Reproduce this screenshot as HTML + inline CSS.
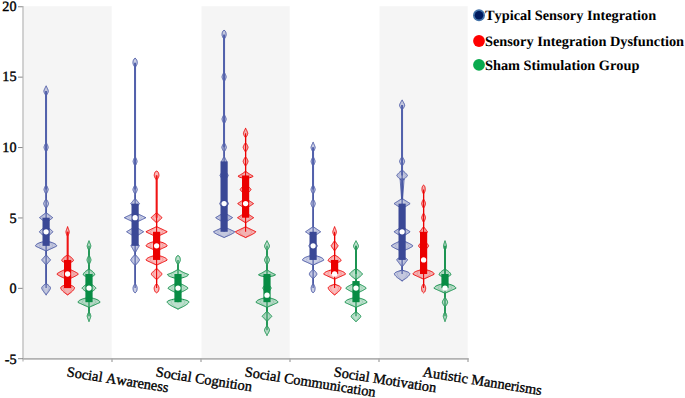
<!DOCTYPE html>
<html><head><meta charset="utf-8"><title>Violin chart</title>
<style>
html,body{margin:0;padding:0;background:#fff;}
svg{display:block;}
text{font-family:"Liberation Serif",serif;fill:#000;font-kerning:none;text-rendering:geometricPrecision;}
</style></head>
<body>
<svg width="685" height="398" viewBox="0 0 685 398">
<rect width="685" height="398" fill="#fff"/>
<rect x="23.5" y="6.2" width="88.2" height="352.4" fill="#f5f5f5"/>
<rect x="201.5" y="6.2" width="88.2" height="352.4" fill="#f5f5f5"/>
<rect x="379.5" y="6.2" width="88.2" height="352.4" fill="#f5f5f5"/>

<line x1="23" y1="6" x2="23" y2="361.5" stroke="#bababa" stroke-width="1.3"/>
<line x1="23" y1="358.9" x2="468.7" y2="358.9" stroke="#b2b2b2" stroke-width="1.6"/>
<line x1="18" y1="358.7" x2="23" y2="358.7" stroke="#7c7c7c" stroke-width="0.9"/>
<line x1="18" y1="6.75" x2="22.6" y2="6.75" stroke="#7c7c7c" stroke-width="0.9"/>
<line x1="18" y1="77.15" x2="22.6" y2="77.15" stroke="#7c7c7c" stroke-width="0.9"/>
<line x1="18" y1="147.55" x2="22.6" y2="147.55" stroke="#7c7c7c" stroke-width="0.9"/>
<line x1="18" y1="217.95" x2="22.6" y2="217.95" stroke="#7c7c7c" stroke-width="0.9"/>
<line x1="18" y1="288.35" x2="22.6" y2="288.35" stroke="#7c7c7c" stroke-width="0.9"/>
<line x1="112" y1="358.6" x2="112" y2="362" stroke="#a8a8a8" stroke-width="1.3"/>
<line x1="201" y1="358.6" x2="201" y2="362" stroke="#a8a8a8" stroke-width="1.3"/>
<line x1="290" y1="358.6" x2="290" y2="362" stroke="#a8a8a8" stroke-width="1.3"/>
<line x1="379" y1="358.6" x2="379" y2="362" stroke="#a8a8a8" stroke-width="1.3"/>
<line x1="468" y1="358.6" x2="468" y2="362" stroke="#a8a8a8" stroke-width="1.3"/>

<path d="M45.98,85.88 45.93,86.28 45.72,86.68 45.50,87.08 45.30,87.48 45.09,87.88 44.90,88.28 44.71,88.68 44.53,89.08 44.36,89.48 44.20,89.88 44.06,90.28 43.93,90.68 43.87,91.08 43.92,91.48 44.00,91.88 44.12,92.28 44.28,92.68 44.45,93.08 44.66,93.48 44.88,93.88 45.14,94.28 45.41,94.68 45.70,95.08 45.98,95.48 45.98,142.68 45.75,143.08 45.52,143.48 45.30,143.88 45.09,144.28 44.89,144.68 44.71,145.08 44.54,145.48 44.39,145.88 44.25,146.28 44.14,146.68 44.06,147.08 44.05,147.48 44.13,147.88 44.24,148.28 44.37,148.68 44.53,149.08 44.69,149.48 44.87,149.88 45.07,150.28 45.28,150.68 45.50,151.08 45.72,151.48 45.96,151.88 45.98,152.28 45.98,184.68 45.89,185.08 45.66,185.48 45.43,185.88 45.21,186.28 45.01,186.68 44.82,187.08 44.64,187.48 44.48,187.88 44.33,188.28 44.21,188.68 44.10,189.08 44.04,189.48 44.08,189.88 44.17,190.28 44.29,190.68 44.43,191.08 44.59,191.48 44.76,191.88 44.95,192.28 45.15,192.68 45.36,193.08 45.59,193.48 45.82,193.88 45.98,194.28 45.98,198.68 45.91,199.08 45.64,199.48 45.37,199.88 45.12,200.28 44.87,200.68 44.65,201.08 44.44,201.48 44.24,201.88 44.07,202.28 43.92,202.68 43.79,203.08 43.71,203.48 43.73,203.88 43.83,204.28 43.96,204.68 44.12,205.08 44.30,205.48 44.50,205.88 44.72,206.28 44.95,206.68 45.19,207.08 45.45,207.48 45.72,207.88 45.98,208.28 45.98,212.28 45.87,212.68 45.35,213.08 44.84,213.48 44.32,213.88 43.81,214.28 43.29,214.68 42.78,215.08 42.26,215.48 41.74,215.88 41.23,216.28 40.71,216.68 40.20,217.08 39.68,217.48 39.63,217.88 40.15,218.28 40.66,218.68 41.18,219.08 41.69,219.48 42.21,219.88 42.72,220.28 43.24,220.68 43.75,221.08 44.27,221.48 44.79,221.88 45.30,222.28 45.82,222.68 45.98,223.08 45.98,225.88 45.95,226.28 45.36,226.68 44.78,227.08 44.22,227.48 43.66,227.88 43.12,228.28 42.60,228.68 42.09,229.08 41.60,229.48 41.13,229.88 40.69,230.28 40.28,230.68 39.90,231.08 39.57,231.48 39.44,231.88 39.73,232.28 40.08,232.68 40.48,233.08 40.91,233.48 41.37,233.88 41.84,234.28 42.34,234.68 42.86,235.08 43.39,235.48 43.94,235.88 44.50,236.28 45.07,236.68 45.65,237.08 45.98,237.48 45.98,240.68 45.57,241.08 43.91,241.48 42.41,241.88 41.07,242.28 39.88,242.68 38.85,243.08 37.97,243.48 37.23,243.88 36.63,244.28 36.17,244.68 35.83,245.08 35.62,245.48 35.52,245.88 35.76,246.28 36.62,246.68 37.49,247.08 38.36,247.48 39.22,247.88 40.09,248.28 40.95,248.68 41.82,249.08 42.68,249.48 43.55,249.88 44.41,250.28 45.28,250.68 45.98,251.08 45.98,254.68 45.81,255.08 45.46,255.48 45.11,255.88 44.77,256.28 44.42,256.68 44.07,257.08 43.73,257.48 43.38,257.88 43.04,258.28 42.69,258.68 42.34,259.08 42.00,259.48 41.65,259.88 41.89,260.28 42.24,260.68 42.59,261.08 42.93,261.48 43.28,261.88 43.63,262.28 43.97,262.68 44.32,263.08 44.66,263.48 45.01,263.88 45.36,264.28 45.70,264.68 45.98,265.08 45.98,283.48 45.50,283.88 44.91,284.28 44.36,284.68 43.85,285.08 43.39,285.48 42.98,285.88 42.61,286.28 42.30,286.68 42.04,287.08 41.85,287.48 41.73,287.88 41.73,288.28 41.87,288.68 42.04,289.08 42.23,289.48 42.45,289.88 42.69,290.28 42.94,290.68 43.20,291.08 43.48,291.48 43.77,291.88 44.07,292.28 44.39,292.68 44.71,293.08 45.04,293.48 45.38,293.88 45.73,294.28 45.98,294.68 45.98,295.08 L46.22,295.08 46.22,294.68 46.47,294.28 46.82,293.88 47.16,293.48 47.49,293.08 47.81,292.68 48.13,292.28 48.43,291.88 48.72,291.48 49.00,291.08 49.26,290.68 49.51,290.28 49.75,289.88 49.97,289.48 50.16,289.08 50.33,288.68 50.47,288.28 50.47,287.88 50.35,287.48 50.16,287.08 49.90,286.68 49.59,286.28 49.22,285.88 48.81,285.48 48.35,285.08 47.84,284.68 47.29,284.28 46.70,283.88 46.22,283.48 46.22,265.08 46.50,264.68 46.84,264.28 47.19,263.88 47.54,263.48 47.88,263.08 48.23,262.68 48.57,262.28 48.92,261.88 49.27,261.48 49.61,261.08 49.96,260.68 50.31,260.28 50.55,259.88 50.20,259.48 49.86,259.08 49.51,258.68 49.16,258.28 48.82,257.88 48.47,257.48 48.13,257.08 47.78,256.68 47.43,256.28 47.09,255.88 46.74,255.48 46.39,255.08 46.22,254.68 46.22,251.08 46.92,250.68 47.79,250.28 48.65,249.88 49.52,249.48 50.38,249.08 51.25,248.68 52.11,248.28 52.98,247.88 53.84,247.48 54.71,247.08 55.58,246.68 56.44,246.28 56.68,245.88 56.58,245.48 56.37,245.08 56.03,244.68 55.57,244.28 54.97,243.88 54.23,243.48 53.35,243.08 52.32,242.68 51.13,242.28 49.79,241.88 48.29,241.48 46.63,241.08 46.22,240.68 46.22,237.48 46.55,237.08 47.13,236.68 47.70,236.28 48.26,235.88 48.81,235.48 49.34,235.08 49.86,234.68 50.36,234.28 50.83,233.88 51.29,233.48 51.72,233.08 52.12,232.68 52.47,232.28 52.76,231.88 52.63,231.48 52.30,231.08 51.92,230.68 51.51,230.28 51.07,229.88 50.60,229.48 50.11,229.08 49.60,228.68 49.08,228.28 48.54,227.88 47.98,227.48 47.42,227.08 46.84,226.68 46.25,226.28 46.22,225.88 46.22,223.08 46.38,222.68 46.90,222.28 47.41,221.88 47.93,221.48 48.45,221.08 48.96,220.68 49.48,220.28 49.99,219.88 50.51,219.48 51.02,219.08 51.54,218.68 52.05,218.28 52.57,217.88 52.52,217.48 52.00,217.08 51.49,216.68 50.97,216.28 50.46,215.88 49.94,215.48 49.42,215.08 48.91,214.68 48.39,214.28 47.88,213.88 47.36,213.48 46.85,213.08 46.33,212.68 46.22,212.28 46.22,208.28 46.48,207.88 46.75,207.48 47.01,207.08 47.25,206.68 47.48,206.28 47.70,205.88 47.90,205.48 48.08,205.08 48.24,204.68 48.37,204.28 48.47,203.88 48.49,203.48 48.41,203.08 48.28,202.68 48.13,202.28 47.96,201.88 47.76,201.48 47.55,201.08 47.33,200.68 47.08,200.28 46.83,199.88 46.56,199.48 46.29,199.08 46.22,198.68 46.22,194.28 46.38,193.88 46.61,193.48 46.84,193.08 47.05,192.68 47.25,192.28 47.44,191.88 47.61,191.48 47.77,191.08 47.91,190.68 48.03,190.28 48.12,189.88 48.16,189.48 48.10,189.08 47.99,188.68 47.87,188.28 47.72,187.88 47.56,187.48 47.38,187.08 47.19,186.68 46.99,186.28 46.77,185.88 46.54,185.48 46.31,185.08 46.22,184.68 46.22,152.28 46.24,151.88 46.48,151.48 46.70,151.08 46.92,150.68 47.13,150.28 47.33,149.88 47.51,149.48 47.67,149.08 47.83,148.68 47.96,148.28 48.07,147.88 48.15,147.48 48.14,147.08 48.06,146.68 47.95,146.28 47.81,145.88 47.66,145.48 47.49,145.08 47.31,144.68 47.11,144.28 46.90,143.88 46.68,143.48 46.45,143.08 46.22,142.68 46.22,95.48 46.50,95.08 46.79,94.68 47.06,94.28 47.32,93.88 47.54,93.48 47.75,93.08 47.92,92.68 48.08,92.28 48.20,91.88 48.28,91.48 48.33,91.08 48.27,90.68 48.14,90.28 48.00,89.88 47.84,89.48 47.67,89.08 47.49,88.68 47.30,88.28 47.11,87.88 46.90,87.48 46.70,87.08 46.48,86.68 46.27,86.28 46.22,85.88 Z" fill="rgba(67,82,161,0.27)" stroke="#4352a1" stroke-width="0.95" stroke-linejoin="round"/>
<path d="M46.10,212.28 45.96,212.68 45.64,213.08 45.32,213.48 45.00,213.88 44.68,214.28 44.36,214.68 44.04,215.08 43.72,215.48 43.40,215.88 43.08,216.28 42.76,216.68 42.44,217.08 42.12,217.48 42.09,217.88 42.41,218.28 42.73,218.68 43.05,219.08 43.37,219.48 43.69,219.88 44.01,220.28 44.33,220.68 44.65,221.08 44.97,221.48 45.29,221.88 45.60,222.28 45.92,222.68 46.10,223.08 46.10,225.88 46.01,226.28 45.64,226.68 45.28,227.08 44.93,227.48 44.59,227.88 44.25,228.28 43.93,228.68 43.61,229.08 43.31,229.48 43.02,229.88 42.75,230.28 42.49,230.68 42.25,231.08 42.05,231.48 41.97,231.88 42.15,232.28 42.37,232.68 42.62,233.08 42.88,233.48 43.17,233.88 43.46,234.28 43.77,234.68 44.09,235.08 44.42,235.48 44.76,235.88 45.11,236.28 45.46,236.68 45.82,237.08 46.10,237.48 46.10,240.68 45.77,241.08 44.74,241.48 43.81,241.88 42.98,242.28 42.24,242.68 41.60,243.08 41.06,243.48 40.60,243.88 40.23,244.28 39.94,244.68 39.74,245.08 39.60,245.48 39.54,245.88 39.69,246.28 40.23,246.68 40.76,247.08 41.30,247.48 41.83,247.88 42.37,248.28 42.91,248.68 43.44,249.08 43.98,249.48 44.52,249.88 45.05,250.28 45.59,250.68 46.10,251.08 46.10,254.68 45.92,255.08 45.70,255.48 45.49,255.88 45.27,256.28 45.06,256.68 44.84,257.08 44.63,257.48 44.42,257.88 44.20,258.28 43.99,258.68 43.77,259.08 43.56,259.48 43.34,259.88 43.49,260.28 43.71,260.68 43.92,261.08 44.14,261.48 44.35,261.88 44.57,262.28 44.78,262.68 44.99,263.08 45.21,263.48 45.42,263.88 45.64,264.28 45.85,264.68 46.07,265.08 46.10,265.48 46.10,283.48 45.73,283.88 45.36,284.28 45.02,284.68 44.71,285.08 44.42,285.48 44.16,285.88 43.94,286.28 43.74,286.68 43.58,287.08 43.46,287.48 43.39,287.88 43.39,288.28 43.47,288.68 43.58,289.08 43.70,289.48 43.84,289.88 43.98,290.28 44.14,290.68 44.30,291.08 44.48,291.48 44.66,291.88 44.84,292.28 45.04,292.68 45.24,293.08 45.44,293.48 45.65,293.88 45.87,294.28 46.09,294.68 46.10,295.08 L46.10,295.08 46.11,294.68 46.33,294.28 46.55,293.88 46.76,293.48 46.96,293.08 47.16,292.68 47.36,292.28 47.54,291.88 47.72,291.48 47.90,291.08 48.06,290.68 48.22,290.28 48.36,289.88 48.50,289.48 48.62,289.08 48.73,288.68 48.81,288.28 48.81,287.88 48.74,287.48 48.62,287.08 48.46,286.68 48.26,286.28 48.04,285.88 47.78,285.48 47.49,285.08 47.18,284.68 46.84,284.28 46.47,283.88 46.10,283.48 46.10,265.48 46.13,265.08 46.35,264.68 46.56,264.28 46.78,263.88 46.99,263.48 47.21,263.08 47.42,262.68 47.63,262.28 47.85,261.88 48.06,261.48 48.28,261.08 48.49,260.68 48.71,260.28 48.86,259.88 48.64,259.48 48.43,259.08 48.21,258.68 48.00,258.28 47.78,257.88 47.57,257.48 47.36,257.08 47.14,256.68 46.93,256.28 46.71,255.88 46.50,255.48 46.28,255.08 46.10,254.68 46.10,251.08 46.61,250.68 47.15,250.28 47.68,249.88 48.22,249.48 48.76,249.08 49.29,248.68 49.83,248.28 50.37,247.88 50.90,247.48 51.44,247.08 51.97,246.68 52.51,246.28 52.66,245.88 52.60,245.48 52.46,245.08 52.26,244.68 51.97,244.28 51.60,243.88 51.14,243.48 50.60,243.08 49.96,242.68 49.22,242.28 48.39,241.88 47.46,241.48 46.43,241.08 46.10,240.68 46.10,237.48 46.38,237.08 46.74,236.68 47.09,236.28 47.44,235.88 47.78,235.48 48.11,235.08 48.43,234.68 48.74,234.28 49.03,233.88 49.32,233.48 49.58,233.08 49.83,232.68 50.05,232.28 50.23,231.88 50.15,231.48 49.95,231.08 49.71,230.68 49.45,230.28 49.18,229.88 48.89,229.48 48.59,229.08 48.27,228.68 47.95,228.28 47.61,227.88 47.27,227.48 46.92,227.08 46.56,226.68 46.19,226.28 46.10,225.88 46.10,223.08 46.28,222.68 46.60,222.28 46.91,221.88 47.23,221.48 47.55,221.08 47.87,220.68 48.19,220.28 48.51,219.88 48.83,219.48 49.15,219.08 49.47,218.68 49.79,218.28 50.11,217.88 50.08,217.48 49.76,217.08 49.44,216.68 49.12,216.28 48.80,215.88 48.48,215.48 48.16,215.08 47.84,214.68 47.52,214.28 47.20,213.88 46.88,213.48 46.56,213.08 46.24,212.68 46.10,212.28 Z" fill="none" stroke="rgba(67,82,161,0.28)" stroke-width="0.6" stroke-linejoin="round"/>
<line x1="46.1" y1="90.98" x2="46.1" y2="288.10" stroke="#4352a1" stroke-width="1.1"/>
<line x1="46.1" y1="90.98" x2="46.1" y2="189.54" stroke="#5261ac" stroke-width="1.9"/>
<rect x="42.50" y="217.70" width="7.2" height="28.16" fill="#3a4896"/>
<circle cx="46.1" cy="231.78" r="2.65" fill="#fff"/>
<path d="M67.48,226.68 67.48,227.08 67.32,227.48 67.16,227.88 67.01,228.28 66.86,228.68 66.72,229.08 66.59,229.48 66.45,229.88 66.33,230.28 66.21,230.68 66.11,231.08 66.01,231.48 65.97,231.88 66.00,232.28 66.07,232.68 66.16,233.08 66.27,233.48 66.40,233.88 66.55,234.28 66.71,234.68 66.90,235.08 67.09,235.48 67.31,235.88 67.48,236.28 67.48,254.68 67.36,255.08 66.68,255.48 66.04,255.88 65.44,256.28 64.88,256.68 64.36,257.08 63.88,257.48 63.44,257.88 63.04,258.28 62.69,258.68 62.39,259.08 62.14,259.48 61.95,259.88 61.83,260.28 61.82,260.68 62.05,261.08 62.56,261.48 63.34,261.88 64.40,262.28 65.73,262.68 67.34,263.08 67.48,263.48 67.48,268.28 66.98,268.68 66.03,269.08 65.11,269.48 64.20,269.88 63.32,270.28 62.46,270.68 61.63,271.08 60.82,271.48 60.04,271.88 59.31,272.28 58.61,272.68 57.96,273.08 57.38,273.48 56.91,273.88 57.03,274.28 57.55,274.68 58.15,275.08 58.81,275.48 59.52,275.88 60.27,276.28 61.06,276.68 61.87,277.08 62.72,277.48 63.58,277.88 64.47,278.28 65.38,278.68 66.31,279.08 67.26,279.48 67.48,279.88 67.48,284.28 66.22,284.68 64.93,285.08 63.82,285.48 62.87,285.88 62.10,286.28 61.49,286.68 61.06,287.08 60.79,287.48 60.70,287.88 60.78,288.28 60.93,288.68 61.14,289.08 61.39,289.48 61.67,289.88 62.00,290.28 62.35,290.68 62.73,291.08 63.14,291.48 63.58,291.88 64.04,292.28 64.52,292.68 65.03,293.08 65.56,293.48 66.11,293.88 66.68,294.28 67.27,294.68 67.48,295.08 L67.72,295.08 67.93,294.68 68.52,294.28 69.09,293.88 69.64,293.48 70.17,293.08 70.68,292.68 71.16,292.28 71.62,291.88 72.06,291.48 72.47,291.08 72.85,290.68 73.20,290.28 73.53,289.88 73.81,289.48 74.06,289.08 74.27,288.68 74.42,288.28 74.50,287.88 74.41,287.48 74.14,287.08 73.71,286.68 73.10,286.28 72.33,285.88 71.38,285.48 70.27,285.08 68.98,284.68 67.72,284.28 67.72,279.88 67.94,279.48 68.89,279.08 69.82,278.68 70.73,278.28 71.62,277.88 72.48,277.48 73.33,277.08 74.14,276.68 74.93,276.28 75.68,275.88 76.39,275.48 77.05,275.08 77.65,274.68 78.17,274.28 78.29,273.88 77.82,273.48 77.24,273.08 76.59,272.68 75.89,272.28 75.16,271.88 74.38,271.48 73.57,271.08 72.74,270.68 71.88,270.28 71.00,269.88 70.09,269.48 69.17,269.08 68.22,268.68 67.72,268.28 67.72,263.48 67.86,263.08 69.47,262.68 70.80,262.28 71.86,261.88 72.64,261.48 73.15,261.08 73.38,260.68 73.37,260.28 73.25,259.88 73.06,259.48 72.81,259.08 72.51,258.68 72.16,258.28 71.76,257.88 71.32,257.48 70.84,257.08 70.32,256.68 69.76,256.28 69.16,255.88 68.52,255.48 67.84,255.08 67.72,254.68 67.72,236.28 67.89,235.88 68.11,235.48 68.30,235.08 68.49,234.68 68.65,234.28 68.80,233.88 68.93,233.48 69.04,233.08 69.13,232.68 69.20,232.28 69.23,231.88 69.19,231.48 69.09,231.08 68.99,230.68 68.87,230.28 68.75,229.88 68.61,229.48 68.48,229.08 68.34,228.68 68.19,228.28 68.04,227.88 67.88,227.48 67.72,227.08 67.72,226.68 Z" fill="rgba(236,0,0,0.27)" stroke="#ec0000" stroke-width="0.95" stroke-linejoin="round"/>
<path d="M67.60,254.68 67.45,255.08 67.03,255.48 66.64,255.88 66.26,256.28 65.91,256.68 65.59,257.08 65.29,257.48 65.02,257.88 64.77,258.28 64.56,258.68 64.37,259.08 64.22,259.48 64.10,259.88 64.02,260.28 64.01,260.68 64.16,261.08 64.47,261.48 64.96,261.88 65.61,262.28 66.44,262.68 67.44,263.08 67.60,263.48 67.60,268.28 67.21,268.68 66.63,269.08 66.06,269.48 65.49,269.88 64.95,270.28 64.41,270.68 63.90,271.08 63.40,271.48 62.92,271.88 62.46,272.28 62.02,272.68 61.62,273.08 61.26,273.48 60.97,273.88 61.05,274.28 61.37,274.68 61.74,275.08 62.15,275.48 62.59,275.88 63.06,276.28 63.54,276.68 64.05,277.08 64.57,277.48 65.11,277.88 65.66,278.28 66.23,278.68 66.80,279.08 67.39,279.48 67.60,279.88 67.60,284.28 66.74,284.68 65.95,285.08 65.26,285.48 64.67,285.88 64.19,286.28 63.81,286.68 63.54,287.08 63.38,287.48 63.32,287.88 63.37,288.28 63.46,288.68 63.59,289.08 63.75,289.48 63.93,289.88 64.13,290.28 64.34,290.68 64.58,291.08 64.84,291.48 65.11,291.88 65.39,292.28 65.69,292.68 66.00,293.08 66.33,293.48 66.67,293.88 67.03,294.28 67.39,294.68 67.60,295.08 L67.60,295.08 67.81,294.68 68.17,294.28 68.53,293.88 68.87,293.48 69.20,293.08 69.51,292.68 69.81,292.28 70.09,291.88 70.36,291.48 70.62,291.08 70.86,290.68 71.07,290.28 71.27,289.88 71.45,289.48 71.61,289.08 71.74,288.68 71.83,288.28 71.88,287.88 71.82,287.48 71.66,287.08 71.39,286.68 71.01,286.28 70.53,285.88 69.94,285.48 69.25,285.08 68.46,284.68 67.60,284.28 67.60,279.88 67.81,279.48 68.40,279.08 68.97,278.68 69.54,278.28 70.09,277.88 70.63,277.48 71.15,277.08 71.66,276.68 72.14,276.28 72.61,275.88 73.05,275.48 73.46,275.08 73.83,274.68 74.15,274.28 74.23,273.88 73.94,273.48 73.58,273.08 73.18,272.68 72.74,272.28 72.28,271.88 71.80,271.48 71.30,271.08 70.79,270.68 70.25,270.28 69.71,269.88 69.14,269.48 68.57,269.08 67.99,268.68 67.60,268.28 67.60,263.48 67.76,263.08 68.76,262.68 69.59,262.28 70.24,261.88 70.73,261.48 71.04,261.08 71.19,260.68 71.18,260.28 71.10,259.88 70.98,259.48 70.83,259.08 70.64,258.68 70.43,258.28 70.18,257.88 69.91,257.48 69.61,257.08 69.29,256.68 68.94,256.28 68.56,255.88 68.17,255.48 67.75,255.08 67.60,254.68 Z" fill="none" stroke="rgba(236,0,0,0.28)" stroke-width="0.6" stroke-linejoin="round"/>
<line x1="67.6" y1="231.78" x2="67.6" y2="288.10" stroke="#ec0000" stroke-width="1.1"/>
<line x1="67.6" y1="231.78" x2="67.6" y2="259.94" stroke="#f01414" stroke-width="1.9"/>
<rect x="64.00" y="259.94" width="7.2" height="28.16" fill="#eb0000"/>
<circle cx="67.6" cy="274.02" r="2.65" fill="#fff"/>
<path d="M88.88,240.76 88.87,241.16 88.69,241.56 88.52,241.96 88.35,242.36 88.19,242.76 88.03,243.16 87.88,243.56 87.73,243.96 87.59,244.36 87.47,244.76 87.35,245.16 87.25,245.56 87.20,245.96 87.24,246.36 87.31,246.76 87.40,247.16 87.53,247.56 87.67,247.96 87.83,248.36 88.02,248.76 88.22,249.16 88.44,249.56 88.68,249.96 88.88,250.36 88.88,255.16 88.75,255.56 88.53,255.96 88.31,256.36 88.11,256.76 87.92,257.16 87.74,257.56 87.57,257.96 87.42,258.36 87.28,258.76 87.16,259.16 87.07,259.56 87.02,259.96 87.08,260.36 87.17,260.76 87.29,261.16 87.43,261.56 87.59,261.96 87.75,262.36 87.94,262.76 88.13,263.16 88.34,263.56 88.55,263.96 88.78,264.36 88.88,264.76 88.88,268.76 88.76,269.16 88.10,269.56 87.47,269.96 86.88,270.36 86.33,270.76 85.81,271.16 85.34,271.56 84.91,271.96 84.52,272.36 84.18,272.76 83.88,273.16 83.64,273.56 83.45,273.96 83.33,274.36 83.32,274.76 83.55,275.16 84.05,275.56 84.81,275.96 85.85,276.36 87.16,276.76 88.74,277.16 88.88,277.56 88.88,282.36 88.60,282.76 87.98,283.16 87.38,283.56 86.80,283.96 86.23,284.36 85.67,284.76 85.13,285.16 84.61,285.56 84.10,285.96 83.62,286.36 83.17,286.76 82.75,287.16 82.38,287.56 82.07,287.96 82.15,288.36 82.48,288.76 82.87,289.16 83.30,289.56 83.77,289.96 84.25,290.36 84.76,290.76 85.29,291.16 85.83,291.56 86.40,291.96 86.97,292.36 87.56,292.76 88.17,293.16 88.78,293.56 88.88,293.96 88.88,297.16 87.74,297.56 86.08,297.96 84.59,298.36 83.26,298.76 82.10,299.16 81.09,299.56 80.23,299.96 79.53,300.36 78.96,300.76 78.54,301.16 78.24,301.56 78.07,301.96 78.00,302.36 78.63,302.76 79.53,303.16 80.42,303.56 81.32,303.96 82.22,304.36 83.12,304.76 84.02,305.16 84.91,305.56 85.81,305.96 86.71,306.36 87.61,306.76 88.51,307.16 88.88,307.56 88.88,311.56 88.80,311.96 88.56,312.36 88.33,312.76 88.12,313.16 87.92,313.56 87.75,313.96 87.60,314.36 87.46,314.76 87.35,315.16 87.27,315.56 87.21,315.96 87.21,316.36 87.30,316.76 87.41,317.16 87.53,317.56 87.66,317.96 87.80,318.36 87.95,318.76 88.11,319.16 88.27,319.56 88.43,319.96 88.60,320.36 88.78,320.76 88.88,321.16 88.88,321.56 L89.12,321.56 89.12,321.16 89.22,320.76 89.40,320.36 89.57,319.96 89.73,319.56 89.89,319.16 90.05,318.76 90.20,318.36 90.34,317.96 90.47,317.56 90.59,317.16 90.70,316.76 90.79,316.36 90.79,315.96 90.73,315.56 90.65,315.16 90.54,314.76 90.40,314.36 90.25,313.96 90.08,313.56 89.88,313.16 89.67,312.76 89.44,312.36 89.20,311.96 89.12,311.56 89.12,307.56 89.49,307.16 90.39,306.76 91.29,306.36 92.19,305.96 93.09,305.56 93.98,305.16 94.88,304.76 95.78,304.36 96.68,303.96 97.58,303.56 98.47,303.16 99.37,302.76 100.00,302.36 99.93,301.96 99.76,301.56 99.46,301.16 99.04,300.76 98.47,300.36 97.77,299.96 96.91,299.56 95.90,299.16 94.74,298.76 93.41,298.36 91.92,297.96 90.26,297.56 89.12,297.16 89.12,293.96 89.22,293.56 89.83,293.16 90.44,292.76 91.03,292.36 91.60,291.96 92.17,291.56 92.71,291.16 93.24,290.76 93.75,290.36 94.23,289.96 94.70,289.56 95.13,289.16 95.52,288.76 95.85,288.36 95.93,287.96 95.62,287.56 95.25,287.16 94.83,286.76 94.38,286.36 93.90,285.96 93.39,285.56 92.87,285.16 92.33,284.76 91.77,284.36 91.20,283.96 90.62,283.56 90.02,283.16 89.40,282.76 89.12,282.36 89.12,277.56 89.26,277.16 90.84,276.76 92.15,276.36 93.19,275.96 93.95,275.56 94.45,275.16 94.68,274.76 94.67,274.36 94.55,273.96 94.36,273.56 94.12,273.16 93.82,272.76 93.48,272.36 93.09,271.96 92.66,271.56 92.19,271.16 91.67,270.76 91.12,270.36 90.53,269.96 89.90,269.56 89.24,269.16 89.12,268.76 89.12,264.76 89.22,264.36 89.45,263.96 89.66,263.56 89.87,263.16 90.06,262.76 90.25,262.36 90.41,261.96 90.57,261.56 90.71,261.16 90.83,260.76 90.92,260.36 90.98,259.96 90.93,259.56 90.84,259.16 90.72,258.76 90.58,258.36 90.43,257.96 90.26,257.56 90.08,257.16 89.89,256.76 89.69,256.36 89.47,255.96 89.25,255.56 89.12,255.16 89.12,250.36 89.32,249.96 89.56,249.56 89.78,249.16 89.98,248.76 90.17,248.36 90.33,247.96 90.47,247.56 90.60,247.16 90.69,246.76 90.76,246.36 90.80,245.96 90.75,245.56 90.65,245.16 90.53,244.76 90.41,244.36 90.27,243.96 90.12,243.56 89.97,243.16 89.81,242.76 89.65,242.36 89.48,241.96 89.31,241.56 89.13,241.16 89.12,240.76 Z" fill="rgba(12,140,69,0.27)" stroke="#0c8c45" stroke-width="0.95" stroke-linejoin="round"/>
<path d="M89.00,268.76 88.85,269.16 88.44,269.56 88.05,269.96 87.69,270.36 87.34,270.76 87.02,271.16 86.73,271.56 86.46,271.96 86.22,272.36 86.01,272.76 85.83,273.16 85.67,273.56 85.56,273.96 85.49,274.36 85.48,274.76 85.62,275.16 85.93,275.56 86.40,275.96 87.05,276.36 87.86,276.76 88.84,277.16 89.00,277.56 89.00,282.36 88.75,282.76 88.37,283.16 88.00,283.56 87.64,283.96 87.28,284.36 86.93,284.76 86.60,285.16 86.28,285.56 85.96,285.96 85.67,286.36 85.39,286.76 85.13,287.16 84.89,287.56 84.70,287.96 84.75,288.36 84.96,288.76 85.20,289.16 85.47,289.56 85.75,289.96 86.06,290.36 86.37,290.76 86.70,291.16 87.04,291.56 87.39,291.96 87.74,292.36 88.11,292.76 88.48,293.16 88.86,293.56 89.00,293.96 89.00,297.16 88.22,297.56 87.19,297.96 86.27,298.36 85.44,298.76 84.72,299.16 84.10,299.56 83.57,299.96 83.13,300.36 82.78,300.76 82.51,301.16 82.33,301.56 82.22,301.96 82.18,302.36 82.57,302.76 83.13,303.16 83.68,303.56 84.24,303.96 84.80,304.36 85.35,304.76 85.91,305.16 86.47,305.56 87.02,305.96 87.58,306.36 88.14,306.76 88.69,307.16 89.00,307.56 L89.00,307.56 89.31,307.16 89.86,306.76 90.42,306.36 90.98,305.96 91.53,305.56 92.09,305.16 92.65,304.76 93.20,304.36 93.76,303.96 94.32,303.56 94.87,303.16 95.43,302.76 95.82,302.36 95.78,301.96 95.67,301.56 95.49,301.16 95.22,300.76 94.87,300.36 94.43,299.96 93.90,299.56 93.28,299.16 92.56,298.76 91.73,298.36 90.81,297.96 89.78,297.56 89.00,297.16 89.00,293.96 89.14,293.56 89.52,293.16 89.89,292.76 90.26,292.36 90.61,291.96 90.96,291.56 91.30,291.16 91.63,290.76 91.94,290.36 92.25,289.96 92.53,289.56 92.80,289.16 93.04,288.76 93.25,288.36 93.30,287.96 93.11,287.56 92.87,287.16 92.61,286.76 92.33,286.36 92.04,285.96 91.72,285.56 91.40,285.16 91.07,284.76 90.72,284.36 90.36,283.96 90.00,283.56 89.63,283.16 89.25,282.76 89.00,282.36 89.00,277.56 89.16,277.16 90.14,276.76 90.95,276.36 91.60,275.96 92.07,275.56 92.38,275.16 92.52,274.76 92.51,274.36 92.44,273.96 92.33,273.56 92.17,273.16 91.99,272.76 91.78,272.36 91.54,271.96 91.27,271.56 90.98,271.16 90.66,270.76 90.31,270.36 89.95,269.96 89.56,269.56 89.15,269.16 89.00,268.76 Z" fill="none" stroke="rgba(12,140,69,0.28)" stroke-width="0.6" stroke-linejoin="round"/>
<line x1="89.0" y1="245.86" x2="89.0" y2="316.26" stroke="#0c8c45" stroke-width="1.1"/>
<rect x="85.40" y="274.02" width="7.2" height="28.16" fill="#088c44"/>
<circle cx="89.0" cy="288.10" r="2.65" fill="#fff"/>
<path d="M134.98,58.12 134.98,58.52 134.19,58.92 133.85,59.32 133.61,59.72 133.43,60.12 133.28,60.52 133.17,60.92 133.09,61.32 133.02,61.72 132.98,62.12 132.96,62.52 132.95,62.92 133.00,63.32 133.08,63.72 133.20,64.12 133.35,64.52 133.52,64.92 133.71,65.32 133.93,65.72 134.17,66.12 134.43,66.52 134.72,66.92 134.98,67.32 134.98,156.52 134.90,156.92 134.67,157.32 134.46,157.72 134.25,158.12 134.06,158.52 133.87,158.92 133.70,159.32 133.55,159.72 133.41,160.12 133.29,160.52 133.19,160.92 133.13,161.32 133.16,161.72 133.25,162.12 133.37,162.52 133.50,162.92 133.65,163.32 133.82,163.72 134.00,164.12 134.19,164.52 134.39,164.92 134.61,165.32 134.83,165.72 134.98,166.12 134.98,184.92 134.73,185.32 134.49,185.72 134.27,186.12 134.05,186.52 133.84,186.92 133.65,187.32 133.48,187.72 133.32,188.12 133.18,188.52 133.06,188.92 132.97,189.32 132.97,189.72 133.05,190.12 133.16,190.52 133.30,190.92 133.46,191.32 133.63,191.72 133.82,192.12 134.03,192.52 134.24,192.92 134.47,193.32 134.71,193.72 134.96,194.12 134.98,194.52 134.98,198.52 134.68,198.92 134.34,199.32 134.00,199.72 133.66,200.12 133.32,200.52 132.98,200.92 132.65,201.32 132.31,201.72 131.97,202.12 131.63,202.52 131.29,202.92 130.95,203.32 130.78,203.72 131.12,204.12 131.46,204.52 131.80,204.92 132.14,205.32 132.48,205.72 132.82,206.12 133.15,206.52 133.49,206.92 133.83,207.32 134.17,207.72 134.51,208.12 134.85,208.52 134.98,208.92 134.98,212.52 134.23,212.92 133.40,213.32 132.57,213.72 131.74,214.12 130.90,214.52 130.07,214.92 129.24,215.32 128.41,215.72 127.58,216.12 126.75,216.52 125.92,216.92 125.09,217.32 124.34,217.72 125.17,218.12 126.00,218.52 126.83,218.92 127.66,219.32 128.50,219.72 129.33,220.12 130.16,220.52 130.99,220.92 131.82,221.32 132.65,221.72 133.48,222.12 134.31,222.52 134.98,222.92 134.98,226.52 134.54,226.92 133.88,227.32 133.21,227.72 132.55,228.12 131.89,228.52 131.23,228.92 130.57,229.32 129.91,229.72 129.25,230.12 128.58,230.52 127.92,230.92 127.26,231.32 126.60,231.72 127.06,232.12 127.72,232.52 128.39,232.92 129.05,233.32 129.71,233.72 130.37,234.12 131.03,234.52 131.69,234.92 132.35,235.32 133.02,235.72 133.68,236.12 134.34,236.52 134.98,236.92 134.98,242.52 134.94,242.92 133.94,243.32 133.09,243.72 132.38,244.12 131.82,244.52 131.40,244.92 131.13,245.32 131.01,245.72 131.15,246.12 131.38,246.52 131.60,246.92 131.83,247.32 132.06,247.72 132.29,248.12 132.51,248.52 132.74,248.92 132.97,249.32 133.20,249.72 133.43,250.12 133.65,250.52 133.88,250.92 134.11,251.32 134.34,251.72 134.56,252.12 134.79,252.52 134.98,252.92 134.98,254.12 134.92,254.52 134.54,254.92 134.16,255.32 133.79,255.72 133.43,256.12 133.08,256.52 132.73,256.92 132.40,257.32 132.08,257.72 131.78,258.12 131.49,258.52 131.22,258.92 130.98,259.32 130.78,259.72 130.76,260.12 130.96,260.52 131.20,260.92 131.46,261.32 131.75,261.72 132.05,262.12 132.37,262.52 132.70,262.92 133.04,263.32 133.39,263.72 133.75,264.12 134.12,264.52 134.50,264.92 134.89,265.32 134.98,265.72 134.98,283.32 134.94,283.72 134.65,284.12 134.38,284.52 134.14,284.92 133.91,285.32 133.71,285.72 133.53,286.12 133.37,286.52 133.24,286.92 133.14,287.32 133.07,287.72 133.04,288.12 133.05,288.52 133.07,288.92 133.11,289.32 133.17,289.72 133.26,290.12 133.36,290.52 133.49,290.92 133.66,291.32 133.87,291.72 134.17,292.12 134.71,292.52 134.98,292.92 L135.22,292.92 135.49,292.52 136.03,292.12 136.33,291.72 136.54,291.32 136.71,290.92 136.84,290.52 136.94,290.12 137.03,289.72 137.09,289.32 137.13,288.92 137.15,288.52 137.16,288.12 137.13,287.72 137.06,287.32 136.96,286.92 136.83,286.52 136.67,286.12 136.49,285.72 136.29,285.32 136.06,284.92 135.82,284.52 135.55,284.12 135.26,283.72 135.22,283.32 135.22,265.72 135.31,265.32 135.70,264.92 136.08,264.52 136.45,264.12 136.81,263.72 137.16,263.32 137.50,262.92 137.83,262.52 138.15,262.12 138.45,261.72 138.74,261.32 139.00,260.92 139.24,260.52 139.44,260.12 139.42,259.72 139.22,259.32 138.98,258.92 138.71,258.52 138.42,258.12 138.12,257.72 137.80,257.32 137.47,256.92 137.12,256.52 136.77,256.12 136.41,255.72 136.04,255.32 135.66,254.92 135.28,254.52 135.22,254.12 135.22,252.92 135.41,252.52 135.64,252.12 135.86,251.72 136.09,251.32 136.32,250.92 136.55,250.52 136.77,250.12 137.00,249.72 137.23,249.32 137.46,248.92 137.69,248.52 137.91,248.12 138.14,247.72 138.37,247.32 138.60,246.92 138.82,246.52 139.05,246.12 139.19,245.72 139.07,245.32 138.80,244.92 138.38,244.52 137.82,244.12 137.11,243.72 136.26,243.32 135.26,242.92 135.22,242.52 135.22,236.92 135.86,236.52 136.52,236.12 137.18,235.72 137.85,235.32 138.51,234.92 139.17,234.52 139.83,234.12 140.49,233.72 141.15,233.32 141.81,232.92 142.48,232.52 143.14,232.12 143.60,231.72 142.94,231.32 142.28,230.92 141.62,230.52 140.95,230.12 140.29,229.72 139.63,229.32 138.97,228.92 138.31,228.52 137.65,228.12 136.99,227.72 136.32,227.32 135.66,226.92 135.22,226.52 135.22,222.92 135.89,222.52 136.72,222.12 137.55,221.72 138.38,221.32 139.21,220.92 140.04,220.52 140.87,220.12 141.70,219.72 142.54,219.32 143.37,218.92 144.20,218.52 145.03,218.12 145.86,217.72 145.11,217.32 144.28,216.92 143.45,216.52 142.62,216.12 141.79,215.72 140.96,215.32 140.13,214.92 139.30,214.52 138.46,214.12 137.63,213.72 136.80,213.32 135.97,212.92 135.22,212.52 135.22,208.92 135.35,208.52 135.69,208.12 136.03,207.72 136.37,207.32 136.71,206.92 137.05,206.52 137.38,206.12 137.72,205.72 138.06,205.32 138.40,204.92 138.74,204.52 139.08,204.12 139.42,203.72 139.25,203.32 138.91,202.92 138.57,202.52 138.23,202.12 137.89,201.72 137.55,201.32 137.22,200.92 136.88,200.52 136.54,200.12 136.20,199.72 135.86,199.32 135.52,198.92 135.22,198.52 135.22,194.52 135.24,194.12 135.49,193.72 135.73,193.32 135.96,192.92 136.17,192.52 136.38,192.12 136.57,191.72 136.74,191.32 136.90,190.92 137.04,190.52 137.15,190.12 137.23,189.72 137.23,189.32 137.14,188.92 137.02,188.52 136.88,188.12 136.72,187.72 136.55,187.32 136.36,186.92 136.15,186.52 135.93,186.12 135.71,185.72 135.47,185.32 135.22,184.92 135.22,166.12 135.37,165.72 135.59,165.32 135.81,164.92 136.01,164.52 136.20,164.12 136.38,163.72 136.55,163.32 136.70,162.92 136.83,162.52 136.95,162.12 137.04,161.72 137.07,161.32 137.01,160.92 136.91,160.52 136.79,160.12 136.65,159.72 136.50,159.32 136.33,158.92 136.14,158.52 135.95,158.12 135.74,157.72 135.53,157.32 135.30,156.92 135.22,156.52 135.22,67.32 135.48,66.92 135.77,66.52 136.03,66.12 136.27,65.72 136.49,65.32 136.68,64.92 136.85,64.52 137.00,64.12 137.12,63.72 137.20,63.32 137.25,62.92 137.24,62.52 137.22,62.12 137.18,61.72 137.11,61.32 137.03,60.92 136.92,60.52 136.77,60.12 136.59,59.72 136.35,59.32 136.01,58.92 135.22,58.52 135.22,58.12 Z" fill="rgba(67,82,161,0.27)" stroke="#4352a1" stroke-width="0.95" stroke-linejoin="round"/>
<path d="M135.10,198.12 135.05,198.52 134.84,198.92 134.63,199.32 134.42,199.72 134.21,200.12 134.00,200.52 133.79,200.92 133.58,201.32 133.37,201.72 133.16,202.12 132.95,202.52 132.74,202.92 132.53,203.32 132.42,203.72 132.63,204.12 132.84,204.52 133.05,204.92 133.26,205.32 133.47,205.72 133.68,206.12 133.89,206.52 134.10,206.92 134.31,207.32 134.52,207.72 134.73,208.12 134.94,208.52 135.10,208.92 135.10,212.12 135.07,212.52 134.56,212.92 134.04,213.32 133.53,213.72 133.01,214.12 132.50,214.52 131.98,214.92 131.47,215.32 130.95,215.72 130.44,216.12 129.92,216.52 129.41,216.92 128.89,217.32 128.43,217.72 128.94,218.12 129.46,218.52 129.97,218.92 130.49,219.32 131.01,219.72 131.52,220.12 132.04,220.52 132.55,220.92 133.07,221.32 133.58,221.72 134.10,222.12 134.61,222.52 135.10,222.92 135.10,226.52 134.75,226.92 134.34,227.32 133.93,227.72 133.52,228.12 133.11,228.52 132.70,228.92 132.29,229.32 131.88,229.72 131.47,230.12 131.06,230.52 130.65,230.92 130.24,231.32 129.83,231.72 130.12,232.12 130.53,232.52 130.94,232.92 131.35,233.32 131.76,233.72 132.17,234.12 132.58,234.52 132.99,234.92 133.40,235.32 133.81,235.72 134.22,236.12 134.63,236.52 135.04,236.92 135.10,237.32 135.10,242.52 135.00,242.92 134.38,243.32 133.85,243.72 133.41,244.12 133.07,244.52 132.81,244.92 132.64,245.32 132.56,245.72 132.65,246.12 132.79,246.52 132.93,246.92 133.07,247.32 133.21,247.72 133.36,248.12 133.50,248.52 133.64,248.92 133.78,249.32 133.92,249.72 134.06,250.12 134.20,250.52 134.34,250.92 134.49,251.32 134.63,251.72 134.77,252.12 134.91,252.52 135.05,252.92 135.10,253.32 135.10,254.12 134.99,254.52 134.75,254.92 134.52,255.32 134.29,255.72 134.06,256.12 133.84,256.52 133.63,256.92 133.43,257.32 133.23,257.72 133.04,258.12 132.86,258.52 132.70,258.92 132.55,259.32 132.42,259.72 132.41,260.12 132.53,260.52 132.68,260.92 132.85,261.32 133.02,261.72 133.21,262.12 133.41,262.52 133.61,262.92 133.82,263.32 134.04,263.72 134.26,264.12 134.49,264.52 134.73,264.92 134.97,265.32 135.10,265.72 L135.10,265.72 135.23,265.32 135.47,264.92 135.71,264.52 135.94,264.12 136.16,263.72 136.38,263.32 136.59,262.92 136.79,262.52 136.99,262.12 137.18,261.72 137.35,261.32 137.52,260.92 137.67,260.52 137.79,260.12 137.78,259.72 137.65,259.32 137.50,258.92 137.34,258.52 137.16,258.12 136.97,257.72 136.77,257.32 136.57,256.92 136.36,256.52 136.14,256.12 135.91,255.72 135.68,255.32 135.45,254.92 135.21,254.52 135.10,254.12 135.10,253.32 135.15,252.92 135.29,252.52 135.43,252.12 135.57,251.72 135.71,251.32 135.86,250.92 136.00,250.52 136.14,250.12 136.28,249.72 136.42,249.32 136.56,248.92 136.70,248.52 136.84,248.12 136.99,247.72 137.13,247.32 137.27,246.92 137.41,246.52 137.55,246.12 137.64,245.72 137.56,245.32 137.39,244.92 137.13,244.52 136.79,244.12 136.35,243.72 135.82,243.32 135.20,242.92 135.10,242.52 135.10,237.32 135.16,236.92 135.57,236.52 135.98,236.12 136.39,235.72 136.80,235.32 137.21,234.92 137.62,234.52 138.03,234.12 138.44,233.72 138.85,233.32 139.26,232.92 139.67,232.52 140.08,232.12 140.37,231.72 139.96,231.32 139.55,230.92 139.14,230.52 138.73,230.12 138.32,229.72 137.91,229.32 137.50,228.92 137.09,228.52 136.68,228.12 136.27,227.72 135.86,227.32 135.45,226.92 135.10,226.52 135.10,222.92 135.59,222.52 136.10,222.12 136.62,221.72 137.13,221.32 137.65,220.92 138.16,220.52 138.68,220.12 139.19,219.72 139.71,219.32 140.23,218.92 140.74,218.52 141.26,218.12 141.77,217.72 141.31,217.32 140.79,216.92 140.28,216.52 139.76,216.12 139.25,215.72 138.73,215.32 138.22,214.92 137.70,214.52 137.19,214.12 136.67,213.72 136.16,213.32 135.64,212.92 135.13,212.52 135.10,212.12 135.10,208.92 135.26,208.52 135.47,208.12 135.68,207.72 135.89,207.32 136.10,206.92 136.31,206.52 136.52,206.12 136.73,205.72 136.94,205.32 137.15,204.92 137.36,204.52 137.57,204.12 137.78,203.72 137.67,203.32 137.46,202.92 137.25,202.52 137.04,202.12 136.83,201.72 136.62,201.32 136.41,200.92 136.20,200.52 135.99,200.12 135.78,199.72 135.57,199.32 135.36,198.92 135.15,198.52 135.10,198.12 Z" fill="none" stroke="rgba(67,82,161,0.28)" stroke-width="0.6" stroke-linejoin="round"/>
<line x1="135.1" y1="62.82" x2="135.1" y2="288.10" stroke="#4352a1" stroke-width="1.1"/>
<line x1="135.1" y1="62.82" x2="135.1" y2="189.54" stroke="#5261ac" stroke-width="1.9"/>
<rect x="131.50" y="203.62" width="7.2" height="42.24" fill="#3a4896"/>
<circle cx="135.1" cy="217.70" r="2.65" fill="#fff"/>
<path d="M156.48,171.16 155.62,171.56 155.25,171.96 154.99,172.36 154.79,172.76 154.64,173.16 154.52,173.56 154.42,173.96 154.36,174.36 154.31,174.76 154.28,175.16 154.28,175.56 154.33,175.96 154.42,176.36 154.55,176.76 154.71,177.16 154.89,177.56 155.10,177.96 155.34,178.36 155.60,178.76 155.88,179.16 156.19,179.56 156.48,179.96 156.48,212.36 156.32,212.76 155.89,213.16 155.46,213.56 155.03,213.96 154.60,214.36 154.17,214.76 153.74,215.16 153.30,215.56 152.87,215.96 152.44,216.36 152.01,216.76 151.58,217.16 151.15,217.56 151.28,217.96 151.71,218.36 152.14,218.76 152.57,219.16 153.00,219.56 153.43,219.96 153.86,220.36 154.30,220.76 154.73,221.16 155.16,221.56 155.59,221.96 156.02,222.36 156.45,222.76 156.48,223.16 156.48,226.36 156.22,226.76 155.38,227.16 154.55,227.56 153.71,227.96 152.87,228.36 152.03,228.76 151.19,229.16 150.35,229.56 149.51,229.96 148.68,230.36 147.84,230.76 147.00,231.16 146.16,231.56 146.08,231.96 146.92,232.36 147.75,232.76 148.59,233.16 149.43,233.56 150.27,233.96 151.11,234.36 151.95,234.76 152.78,235.16 153.62,235.56 154.46,235.96 155.30,236.36 156.14,236.76 156.48,237.16 156.48,240.76 155.73,241.16 154.11,241.56 152.64,241.96 151.34,242.36 150.19,242.76 149.20,243.16 148.35,243.56 147.64,243.96 147.07,244.36 146.64,244.76 146.33,245.16 146.14,245.56 146.06,245.96 146.48,246.36 147.34,246.76 148.20,247.16 149.06,247.56 149.93,247.96 150.79,248.36 151.65,248.76 152.51,249.16 153.37,249.56 154.23,249.96 155.09,250.36 155.95,250.76 156.48,251.16 156.48,254.76 156.07,255.16 154.43,255.56 152.94,255.96 151.61,256.36 150.44,256.76 149.42,257.16 148.54,257.56 147.81,257.96 147.22,258.36 146.76,258.76 146.43,259.16 146.22,259.56 146.12,259.96 146.36,260.36 147.21,260.76 148.07,261.16 148.93,261.56 149.79,261.96 150.64,262.36 151.50,262.76 152.36,263.16 153.21,263.56 154.07,263.96 154.93,264.36 155.79,264.76 156.48,265.16 156.48,268.36 156.19,268.76 155.72,269.16 155.26,269.56 154.81,269.96 154.37,270.36 153.95,270.76 153.53,271.16 153.13,271.56 152.75,271.96 152.38,272.36 152.04,272.76 151.72,273.16 151.44,273.56 151.22,273.96 151.36,274.36 151.63,274.76 151.94,275.16 152.28,275.56 152.64,275.96 153.01,276.36 153.41,276.76 153.82,277.16 154.24,277.56 154.68,277.96 155.13,278.36 155.58,278.76 156.05,279.16 156.48,279.56 156.48,283.56 156.21,283.96 155.89,284.36 155.59,284.76 155.32,285.16 155.07,285.56 154.85,285.96 154.65,286.36 154.49,286.76 154.35,287.16 154.26,287.56 154.20,287.96 154.20,288.36 154.22,288.76 154.26,289.16 154.32,289.56 154.41,289.96 154.52,290.36 154.66,290.76 154.83,291.16 155.06,291.56 155.36,291.96 155.82,292.36 156.48,292.76 L156.72,292.76 157.38,292.36 157.84,291.96 158.14,291.56 158.37,291.16 158.54,290.76 158.68,290.36 158.79,289.96 158.88,289.56 158.94,289.16 158.98,288.76 159.00,288.36 159.00,287.96 158.94,287.56 158.85,287.16 158.71,286.76 158.55,286.36 158.35,285.96 158.13,285.56 157.88,285.16 157.61,284.76 157.31,284.36 156.99,283.96 156.72,283.56 156.72,279.56 157.15,279.16 157.62,278.76 158.07,278.36 158.52,277.96 158.96,277.56 159.38,277.16 159.79,276.76 160.19,276.36 160.56,275.96 160.92,275.56 161.26,275.16 161.57,274.76 161.84,274.36 161.98,273.96 161.76,273.56 161.48,273.16 161.16,272.76 160.82,272.36 160.45,271.96 160.07,271.56 159.67,271.16 159.25,270.76 158.83,270.36 158.39,269.96 157.94,269.56 157.48,269.16 157.01,268.76 156.72,268.36 156.72,265.16 157.41,264.76 158.27,264.36 159.13,263.96 159.99,263.56 160.84,263.16 161.70,262.76 162.56,262.36 163.41,261.96 164.27,261.56 165.13,261.16 165.99,260.76 166.84,260.36 167.08,259.96 166.98,259.56 166.77,259.16 166.44,258.76 165.98,258.36 165.39,257.96 164.66,257.56 163.78,257.16 162.76,256.76 161.59,256.36 160.26,255.96 158.77,255.56 157.13,255.16 156.72,254.76 156.72,251.16 157.25,250.76 158.11,250.36 158.97,249.96 159.83,249.56 160.69,249.16 161.55,248.76 162.41,248.36 163.27,247.96 164.14,247.56 165.00,247.16 165.86,246.76 166.72,246.36 167.14,245.96 167.06,245.56 166.87,245.16 166.56,244.76 166.13,244.36 165.56,243.96 164.85,243.56 164.00,243.16 163.01,242.76 161.86,242.36 160.56,241.96 159.09,241.56 157.47,241.16 156.72,240.76 156.72,237.16 157.06,236.76 157.90,236.36 158.74,235.96 159.58,235.56 160.41,235.16 161.25,234.76 162.09,234.36 162.93,233.96 163.77,233.56 164.61,233.16 165.45,232.76 166.28,232.36 167.12,231.96 167.04,231.56 166.20,231.16 165.36,230.76 164.52,230.36 163.69,229.96 162.85,229.56 162.01,229.16 161.17,228.76 160.33,228.36 159.49,227.96 158.65,227.56 157.82,227.16 156.98,226.76 156.72,226.36 156.72,223.16 156.75,222.76 157.18,222.36 157.61,221.96 158.04,221.56 158.47,221.16 158.90,220.76 159.34,220.36 159.77,219.96 160.20,219.56 160.63,219.16 161.06,218.76 161.49,218.36 161.92,217.96 162.05,217.56 161.62,217.16 161.19,216.76 160.76,216.36 160.33,215.96 159.90,215.56 159.46,215.16 159.03,214.76 158.60,214.36 158.17,213.96 157.74,213.56 157.31,213.16 156.88,212.76 156.72,212.36 156.72,179.96 157.01,179.56 157.32,179.16 157.60,178.76 157.86,178.36 158.10,177.96 158.31,177.56 158.49,177.16 158.65,176.76 158.78,176.36 158.87,175.96 158.92,175.56 158.92,175.16 158.89,174.76 158.84,174.36 158.78,173.96 158.68,173.56 158.56,173.16 158.41,172.76 158.21,172.36 157.95,171.96 157.58,171.56 156.72,171.16 Z" fill="rgba(236,0,0,0.27)" stroke="#ec0000" stroke-width="0.95" stroke-linejoin="round"/>
<path d="M156.60,212.36 156.43,212.76 156.16,213.16 155.89,213.56 155.63,213.96 155.36,214.36 155.09,214.76 154.82,215.16 154.56,215.56 154.29,215.96 154.02,216.36 153.76,216.76 153.49,217.16 153.22,217.56 153.30,217.96 153.57,218.36 153.84,218.76 154.10,219.16 154.37,219.56 154.64,219.96 154.90,220.36 155.17,220.76 155.44,221.16 155.71,221.56 155.97,221.96 156.24,222.36 156.51,222.76 156.60,223.16 156.60,226.36 156.37,226.76 155.85,227.16 155.33,227.56 154.81,227.96 154.29,228.36 153.77,228.76 153.25,229.16 152.73,229.56 152.21,229.96 151.69,230.36 151.17,230.76 150.65,231.16 150.13,231.56 150.08,231.96 150.60,232.36 151.12,232.76 151.64,233.16 152.16,233.56 152.68,233.96 153.20,234.36 153.71,234.76 154.23,235.16 154.75,235.56 155.27,235.96 155.79,236.36 156.31,236.76 156.60,237.16 156.60,240.76 156.06,241.16 155.05,241.56 154.15,241.96 153.34,242.36 152.63,242.76 152.01,243.16 151.48,243.56 151.04,243.96 150.69,244.36 150.42,244.76 150.23,245.16 150.12,245.56 150.06,245.96 150.33,246.36 150.86,246.76 151.39,247.16 151.93,247.56 152.46,247.96 153.00,248.36 153.53,248.76 154.06,249.16 154.60,249.56 155.13,249.96 155.67,250.36 156.20,250.76 156.60,251.16 156.60,254.76 156.27,255.16 155.25,255.56 154.33,255.96 153.51,256.36 152.78,256.76 152.15,257.16 151.60,257.56 151.15,257.96 150.78,258.36 150.50,258.76 150.30,259.16 150.16,259.56 150.10,259.96 150.25,260.36 150.78,260.76 151.31,261.16 151.84,261.56 152.38,261.96 152.91,262.36 153.44,262.76 153.97,263.16 154.50,263.56 155.03,263.96 155.56,264.36 156.10,264.76 156.60,265.16 156.60,268.36 156.35,268.76 156.06,269.16 155.77,269.56 155.49,269.96 155.22,270.36 154.95,270.76 154.70,271.16 154.45,271.56 154.21,271.96 153.98,272.36 153.77,272.76 153.57,273.16 153.40,273.56 153.26,273.96 153.35,274.36 153.52,274.76 153.71,275.16 153.92,275.56 154.14,275.96 154.38,276.36 154.62,276.76 154.88,277.16 155.14,277.56 155.41,277.96 155.69,278.36 155.97,278.76 156.26,279.16 156.56,279.56 156.60,279.96 L156.60,279.96 156.64,279.56 156.94,279.16 157.23,278.76 157.51,278.36 157.79,277.96 158.06,277.56 158.32,277.16 158.58,276.76 158.82,276.36 159.06,275.96 159.28,275.56 159.49,275.16 159.68,274.76 159.85,274.36 159.94,273.96 159.80,273.56 159.63,273.16 159.43,272.76 159.22,272.36 158.99,271.96 158.75,271.56 158.50,271.16 158.25,270.76 157.98,270.36 157.71,269.96 157.43,269.56 157.14,269.16 156.85,268.76 156.60,268.36 156.60,265.16 157.10,264.76 157.64,264.36 158.17,263.96 158.70,263.56 159.23,263.16 159.76,262.76 160.29,262.36 160.82,261.96 161.36,261.56 161.89,261.16 162.42,260.76 162.95,260.36 163.10,259.96 163.04,259.56 162.90,259.16 162.70,258.76 162.42,258.36 162.05,257.96 161.60,257.56 161.05,257.16 160.42,256.76 159.69,256.36 158.87,255.96 157.95,255.56 156.93,255.16 156.60,254.76 156.60,251.16 157.00,250.76 157.53,250.36 158.07,249.96 158.60,249.56 159.14,249.16 159.67,248.76 160.20,248.36 160.74,247.96 161.27,247.56 161.81,247.16 162.34,246.76 162.87,246.36 163.14,245.96 163.08,245.56 162.97,245.16 162.78,244.76 162.51,244.36 162.16,243.96 161.72,243.56 161.19,243.16 160.57,242.76 159.86,242.36 159.05,241.96 158.15,241.56 157.14,241.16 156.60,240.76 156.60,237.16 156.89,236.76 157.41,236.36 157.93,235.96 158.45,235.56 158.97,235.16 159.49,234.76 160.00,234.36 160.52,233.96 161.04,233.56 161.56,233.16 162.08,232.76 162.60,232.36 163.12,231.96 163.07,231.56 162.55,231.16 162.03,230.76 161.51,230.36 160.99,229.96 160.47,229.56 159.95,229.16 159.43,228.76 158.91,228.36 158.39,227.96 157.87,227.56 157.35,227.16 156.83,226.76 156.60,226.36 156.60,223.16 156.69,222.76 156.96,222.36 157.23,221.96 157.49,221.56 157.76,221.16 158.03,220.76 158.30,220.36 158.56,219.96 158.83,219.56 159.10,219.16 159.36,218.76 159.63,218.36 159.90,217.96 159.98,217.56 159.71,217.16 159.44,216.76 159.18,216.36 158.91,215.96 158.64,215.56 158.38,215.16 158.11,214.76 157.84,214.36 157.57,213.96 157.31,213.56 157.04,213.16 156.77,212.76 156.60,212.36 Z" fill="none" stroke="rgba(236,0,0,0.28)" stroke-width="0.6" stroke-linejoin="round"/>
<line x1="156.6" y1="175.46" x2="156.6" y2="288.10" stroke="#ec0000" stroke-width="1.1"/>
<line x1="156.6" y1="175.46" x2="156.6" y2="217.70" stroke="#f01414" stroke-width="1.9"/>
<rect x="153.00" y="231.78" width="7.2" height="28.16" fill="#eb0000"/>
<circle cx="156.6" cy="245.86" r="2.65" fill="#fff"/>
<path d="M177.88,255.64 177.02,256.04 176.65,256.44 176.39,256.84 176.19,257.24 176.04,257.64 175.92,258.04 175.82,258.44 175.76,258.84 175.71,259.24 175.68,259.64 175.68,260.04 175.73,260.44 175.82,260.84 175.95,261.24 176.11,261.64 176.29,262.04 176.50,262.44 176.74,262.84 177.00,263.24 177.28,263.64 177.59,264.04 177.88,264.44 177.88,269.24 177.49,269.64 176.84,270.04 176.17,270.44 175.49,270.84 174.79,271.24 174.06,271.64 173.30,272.04 172.52,272.44 171.68,272.84 170.79,273.24 169.81,273.64 168.66,274.04 167.46,274.44 167.58,274.84 167.87,275.24 168.32,275.64 168.93,276.04 169.69,276.44 170.62,276.84 171.70,277.24 172.95,277.64 174.35,278.04 175.91,278.44 177.64,278.84 177.88,279.24 177.88,282.44 177.23,282.84 176.34,283.24 175.47,283.64 174.62,284.04 173.79,284.44 172.99,284.84 172.20,285.24 171.45,285.64 170.72,286.04 170.03,286.44 169.38,286.84 168.78,287.24 168.25,287.64 167.84,288.04 168.11,288.44 168.61,288.84 169.19,289.24 169.83,289.64 170.51,290.04 171.23,290.44 171.97,290.84 172.75,291.24 173.55,291.64 174.37,292.04 175.22,292.44 176.08,292.84 176.96,293.24 177.86,293.64 177.88,294.04 177.88,298.04 177.64,298.44 175.39,298.84 173.41,299.24 171.71,299.64 170.27,300.04 169.09,300.44 168.19,300.84 167.56,301.24 167.20,301.64 167.11,302.04 167.26,302.44 167.52,302.84 167.86,303.24 168.27,303.64 168.74,304.04 169.26,304.44 169.82,304.84 170.43,305.24 171.09,305.64 171.79,306.04 172.52,306.44 173.29,306.84 174.10,307.24 174.94,307.64 175.82,308.04 176.72,308.44 177.66,308.84 177.88,309.24 L178.12,309.24 178.34,308.84 179.28,308.44 180.18,308.04 181.06,307.64 181.90,307.24 182.71,306.84 183.48,306.44 184.21,306.04 184.91,305.64 185.57,305.24 186.18,304.84 186.74,304.44 187.26,304.04 187.73,303.64 188.14,303.24 188.48,302.84 188.74,302.44 188.89,302.04 188.80,301.64 188.44,301.24 187.81,300.84 186.91,300.44 185.73,300.04 184.29,299.64 182.59,299.24 180.61,298.84 178.36,298.44 178.12,298.04 178.12,294.04 178.14,293.64 179.04,293.24 179.92,292.84 180.78,292.44 181.63,292.04 182.45,291.64 183.25,291.24 184.03,290.84 184.77,290.44 185.49,290.04 186.17,289.64 186.81,289.24 187.39,288.84 187.89,288.44 188.16,288.04 187.75,287.64 187.22,287.24 186.62,286.84 185.97,286.44 185.28,286.04 184.55,285.64 183.80,285.24 183.01,284.84 182.21,284.44 181.38,284.04 180.53,283.64 179.66,283.24 178.77,282.84 178.12,282.44 178.12,279.24 178.36,278.84 180.09,278.44 181.65,278.04 183.05,277.64 184.30,277.24 185.38,276.84 186.31,276.44 187.07,276.04 187.68,275.64 188.13,275.24 188.42,274.84 188.54,274.44 187.34,274.04 186.19,273.64 185.21,273.24 184.32,272.84 183.48,272.44 182.70,272.04 181.94,271.64 181.21,271.24 180.51,270.84 179.83,270.44 179.16,270.04 178.51,269.64 178.12,269.24 178.12,264.44 178.41,264.04 178.72,263.64 179.00,263.24 179.26,262.84 179.50,262.44 179.71,262.04 179.89,261.64 180.05,261.24 180.18,260.84 180.27,260.44 180.32,260.04 180.32,259.64 180.29,259.24 180.24,258.84 180.18,258.44 180.08,258.04 179.96,257.64 179.81,257.24 179.61,256.84 179.35,256.44 178.98,256.04 178.12,255.64 Z" fill="rgba(12,140,69,0.27)" stroke="#0c8c45" stroke-width="0.95" stroke-linejoin="round"/>
<path d="M178.00,269.24 177.68,269.64 177.28,270.04 176.87,270.44 176.44,270.84 176.01,271.24 175.56,271.64 175.09,272.04 174.60,272.44 174.08,272.84 173.53,273.24 172.92,273.64 172.21,274.04 171.46,274.44 171.54,274.84 171.72,275.24 172.00,275.64 172.37,276.04 172.85,276.44 173.42,276.84 174.09,277.24 174.87,277.64 175.74,278.04 176.71,278.44 177.77,278.84 178.00,279.24 178.00,282.44 177.52,282.84 176.97,283.24 176.43,283.64 175.91,284.04 175.39,284.44 174.89,284.84 174.41,285.24 173.94,285.64 173.49,286.04 173.06,286.44 172.66,286.84 172.28,287.24 171.95,287.64 171.70,288.04 171.87,288.44 172.18,288.84 172.54,289.24 172.94,289.64 173.36,290.04 173.80,290.44 174.26,290.84 174.74,291.24 175.24,291.64 175.75,292.04 176.27,292.44 176.81,292.84 177.36,293.24 177.92,293.64 178.00,294.04 178.00,298.04 177.78,298.44 176.38,298.84 175.16,299.24 174.10,299.64 173.20,300.04 172.48,300.44 171.92,300.84 171.53,301.24 171.30,301.64 171.25,302.04 171.34,302.44 171.50,302.84 171.72,303.24 171.97,303.64 172.26,304.04 172.58,304.44 172.93,304.84 173.31,305.24 173.72,305.64 174.15,306.04 174.60,306.44 175.08,306.84 175.58,307.24 176.10,307.64 176.65,308.04 177.21,308.44 177.79,308.84 178.00,309.24 L178.00,309.24 178.21,308.84 178.79,308.44 179.35,308.04 179.90,307.64 180.42,307.24 180.92,306.84 181.40,306.44 181.85,306.04 182.28,305.64 182.69,305.24 183.07,304.84 183.42,304.44 183.74,304.04 184.03,303.64 184.28,303.24 184.50,302.84 184.66,302.44 184.75,302.04 184.70,301.64 184.47,301.24 184.08,300.84 183.52,300.44 182.80,300.04 181.90,299.64 180.84,299.24 179.62,298.84 178.22,298.44 178.00,298.04 178.00,294.04 178.08,293.64 178.64,293.24 179.19,292.84 179.73,292.44 180.25,292.04 180.76,291.64 181.26,291.24 181.74,290.84 182.20,290.44 182.64,290.04 183.06,289.64 183.46,289.24 183.82,288.84 184.13,288.44 184.30,288.04 184.05,287.64 183.72,287.24 183.34,286.84 182.94,286.44 182.51,286.04 182.06,285.64 181.59,285.24 181.11,284.84 180.61,284.44 180.09,284.04 179.57,283.64 179.03,283.24 178.48,282.84 178.00,282.44 178.00,279.24 178.23,278.84 179.29,278.44 180.26,278.04 181.13,277.64 181.91,277.24 182.58,276.84 183.15,276.44 183.63,276.04 184.00,275.64 184.28,275.24 184.46,274.84 184.54,274.44 183.79,274.04 183.08,273.64 182.47,273.24 181.92,272.84 181.40,272.44 180.91,272.04 180.44,271.64 179.99,271.24 179.56,270.84 179.13,270.44 178.72,270.04 178.32,269.64 178.00,269.24 Z" fill="none" stroke="rgba(12,140,69,0.28)" stroke-width="0.6" stroke-linejoin="round"/>
<line x1="178.0" y1="259.94" x2="178.0" y2="302.18" stroke="#0c8c45" stroke-width="1.1"/>
<rect x="174.40" y="274.02" width="7.2" height="28.16" fill="#088c44"/>
<circle cx="178.0" cy="288.10" r="2.65" fill="#fff"/>
<path d="M223.98,30.36 223.23,30.76 222.90,31.16 222.67,31.56 222.49,31.96 222.36,32.36 222.25,32.76 222.17,33.16 222.10,33.56 222.06,33.96 222.04,34.36 222.04,34.76 222.08,35.16 222.16,35.56 222.28,35.96 222.42,36.36 222.58,36.76 222.77,37.16 222.98,37.56 223.21,37.96 223.46,38.36 223.73,38.76 223.98,39.16 223.98,71.96 223.94,72.36 223.70,72.76 223.47,73.16 223.26,73.56 223.05,73.96 222.86,74.36 222.68,74.76 222.51,75.16 222.36,75.56 222.23,75.96 222.12,76.36 222.05,76.76 222.07,77.16 222.15,77.56 222.27,77.96 222.40,78.36 222.56,78.76 222.73,79.16 222.91,79.56 223.11,79.96 223.32,80.36 223.54,80.76 223.77,81.16 223.98,81.56 223.98,114.36 223.84,114.76 223.61,115.16 223.39,115.56 223.17,115.96 222.97,116.36 222.78,116.76 222.61,117.16 222.45,117.56 222.31,117.96 222.18,118.36 222.09,118.76 222.04,119.16 222.10,119.56 222.20,119.96 222.32,120.36 222.46,120.76 222.62,121.16 222.80,121.56 222.99,121.96 223.19,122.36 223.41,122.76 223.63,123.16 223.87,123.56 223.98,123.96 223.98,142.36 223.93,142.76 223.67,143.16 223.42,143.56 223.19,143.96 222.96,144.36 222.75,144.76 222.56,145.16 222.38,145.56 222.22,145.96 222.07,146.36 221.96,146.76 221.88,147.16 221.90,147.56 221.99,147.96 222.11,148.36 222.26,148.76 222.43,149.16 222.61,149.56 222.81,149.96 223.03,150.36 223.26,150.76 223.49,151.16 223.74,151.56 223.98,151.96 223.98,156.36 223.81,156.76 223.61,157.16 223.42,157.56 223.22,157.96 223.02,158.36 222.82,158.76 222.62,159.16 222.42,159.56 222.22,159.96 222.03,160.36 221.83,160.76 221.63,161.16 221.61,161.56 221.81,161.96 222.01,162.36 222.20,162.76 222.40,163.16 222.60,163.56 222.80,163.96 223.00,164.36 223.20,164.76 223.40,165.16 223.59,165.56 223.79,165.96 223.98,166.36 223.98,169.96 223.65,170.36 223.29,170.76 222.95,171.16 222.61,171.56 222.28,171.96 221.96,172.36 221.65,172.76 221.35,173.16 221.06,173.56 220.79,173.96 220.54,174.36 220.30,174.76 220.11,175.16 220.03,175.56 220.20,175.96 220.42,176.36 220.66,176.76 220.92,177.16 221.20,177.56 221.50,177.96 221.80,178.36 222.12,178.76 222.44,179.16 222.78,179.56 223.12,179.96 223.47,180.36 223.83,180.76 223.98,181.16 223.98,197.96 223.77,198.36 223.39,198.76 223.01,199.16 222.64,199.56 222.29,199.96 221.94,200.36 221.60,200.76 221.27,201.16 220.96,201.56 220.66,201.96 220.38,202.36 220.12,202.76 219.89,203.16 219.72,203.56 219.83,203.96 220.05,204.36 220.30,204.76 220.58,205.16 220.87,205.56 221.18,205.96 221.50,206.36 221.83,206.76 222.18,207.16 222.54,207.56 222.90,207.96 223.27,208.36 223.65,208.76 223.98,209.16 223.98,212.36 223.67,212.76 223.01,213.16 222.35,213.56 221.69,213.96 221.02,214.36 220.36,214.76 219.70,215.16 219.04,215.56 218.38,215.96 217.72,216.36 217.05,216.76 216.39,217.16 215.73,217.56 215.93,217.96 216.59,218.36 217.25,218.76 217.91,219.16 218.58,219.56 219.24,219.96 219.90,220.36 220.56,220.76 221.22,221.16 221.88,221.56 222.55,221.96 223.21,222.36 223.87,222.76 223.98,223.16 223.98,226.76 223.28,227.16 222.42,227.56 221.55,227.96 220.69,228.36 219.82,228.76 218.96,229.16 218.10,229.56 217.23,229.96 216.37,230.36 215.50,230.76 214.64,231.16 213.78,231.56 213.42,231.96 213.85,232.36 214.39,232.76 215.01,233.16 215.68,233.56 216.40,233.96 217.15,234.36 217.95,234.76 218.77,235.16 219.63,235.56 220.52,235.96 221.43,236.36 222.36,236.76 223.32,237.16 223.98,237.56 L224.22,237.56 224.88,237.16 225.84,236.76 226.77,236.36 227.68,235.96 228.57,235.56 229.43,235.16 230.25,234.76 231.05,234.36 231.80,233.96 232.52,233.56 233.19,233.16 233.81,232.76 234.35,232.36 234.78,231.96 234.42,231.56 233.56,231.16 232.70,230.76 231.83,230.36 230.97,229.96 230.10,229.56 229.24,229.16 228.38,228.76 227.51,228.36 226.65,227.96 225.78,227.56 224.92,227.16 224.22,226.76 224.22,223.16 224.33,222.76 224.99,222.36 225.65,221.96 226.32,221.56 226.98,221.16 227.64,220.76 228.30,220.36 228.96,219.96 229.62,219.56 230.29,219.16 230.95,218.76 231.61,218.36 232.27,217.96 232.47,217.56 231.81,217.16 231.15,216.76 230.48,216.36 229.82,215.96 229.16,215.56 228.50,215.16 227.84,214.76 227.18,214.36 226.51,213.96 225.85,213.56 225.19,213.16 224.53,212.76 224.22,212.36 224.22,209.16 224.55,208.76 224.93,208.36 225.30,207.96 225.66,207.56 226.02,207.16 226.37,206.76 226.70,206.36 227.02,205.96 227.33,205.56 227.62,205.16 227.90,204.76 228.15,204.36 228.37,203.96 228.48,203.56 228.31,203.16 228.08,202.76 227.82,202.36 227.54,201.96 227.24,201.56 226.93,201.16 226.60,200.76 226.26,200.36 225.91,199.96 225.56,199.56 225.19,199.16 224.81,198.76 224.43,198.36 224.22,197.96 224.22,181.16 224.37,180.76 224.73,180.36 225.08,179.96 225.42,179.56 225.76,179.16 226.08,178.76 226.40,178.36 226.70,177.96 227.00,177.56 227.28,177.16 227.54,176.76 227.78,176.36 228.00,175.96 228.17,175.56 228.09,175.16 227.90,174.76 227.66,174.36 227.41,173.96 227.14,173.56 226.85,173.16 226.55,172.76 226.24,172.36 225.92,171.96 225.59,171.56 225.25,171.16 224.91,170.76 224.55,170.36 224.22,169.96 224.22,166.36 224.41,165.96 224.61,165.56 224.80,165.16 225.00,164.76 225.20,164.36 225.40,163.96 225.60,163.56 225.80,163.16 226.00,162.76 226.19,162.36 226.39,161.96 226.59,161.56 226.57,161.16 226.37,160.76 226.17,160.36 225.98,159.96 225.78,159.56 225.58,159.16 225.38,158.76 225.18,158.36 224.98,157.96 224.78,157.56 224.59,157.16 224.39,156.76 224.22,156.36 224.22,151.96 224.46,151.56 224.71,151.16 224.94,150.76 225.17,150.36 225.39,149.96 225.59,149.56 225.77,149.16 225.94,148.76 226.09,148.36 226.21,147.96 226.30,147.56 226.32,147.16 226.24,146.76 226.13,146.36 225.98,145.96 225.82,145.56 225.64,145.16 225.45,144.76 225.24,144.36 225.01,143.96 224.78,143.56 224.53,143.16 224.27,142.76 224.22,142.36 224.22,123.96 224.33,123.56 224.57,123.16 224.79,122.76 225.01,122.36 225.21,121.96 225.40,121.56 225.58,121.16 225.74,120.76 225.88,120.36 226.00,119.96 226.10,119.56 226.16,119.16 226.11,118.76 226.02,118.36 225.89,117.96 225.75,117.56 225.59,117.16 225.42,116.76 225.23,116.36 225.03,115.96 224.81,115.56 224.59,115.16 224.36,114.76 224.22,114.36 224.22,81.56 224.43,81.16 224.66,80.76 224.88,80.36 225.09,79.96 225.29,79.56 225.47,79.16 225.64,78.76 225.80,78.36 225.93,77.96 226.05,77.56 226.13,77.16 226.15,76.76 226.08,76.36 225.97,75.96 225.84,75.56 225.69,75.16 225.52,74.76 225.34,74.36 225.15,73.96 224.94,73.56 224.73,73.16 224.50,72.76 224.26,72.36 224.22,71.96 224.22,39.16 224.47,38.76 224.74,38.36 224.99,37.96 225.22,37.56 225.43,37.16 225.62,36.76 225.78,36.36 225.92,35.96 226.04,35.56 226.12,35.16 226.16,34.76 226.16,34.36 226.14,33.96 226.10,33.56 226.03,33.16 225.95,32.76 225.84,32.36 225.71,31.96 225.53,31.56 225.30,31.16 224.97,30.76 224.22,30.36 Z" fill="rgba(67,82,161,0.27)" stroke="#4352a1" stroke-width="0.95" stroke-linejoin="round"/>
<path d="M224.10,169.56 224.04,169.96 223.82,170.36 223.60,170.76 223.39,171.16 223.18,171.56 222.97,171.96 222.77,172.36 222.58,172.76 222.39,173.16 222.22,173.56 222.05,173.96 221.89,174.36 221.75,174.76 221.62,175.16 221.57,175.56 221.68,175.96 221.82,176.36 221.97,176.76 222.13,177.16 222.30,177.56 222.49,177.96 222.67,178.36 222.87,178.76 223.07,179.16 223.28,179.56 223.49,179.96 223.71,180.36 223.93,180.76 224.10,181.16 224.10,197.96 223.89,198.36 223.66,198.76 223.42,199.16 223.20,199.56 222.98,199.96 222.76,200.36 222.55,200.76 222.35,201.16 222.15,201.56 221.97,201.96 221.79,202.36 221.63,202.76 221.49,203.16 221.38,203.56 221.45,203.96 221.59,204.36 221.75,204.76 221.92,205.16 222.10,205.56 222.29,205.96 222.49,206.36 222.70,206.76 222.91,207.16 223.13,207.56 223.36,207.96 223.59,208.36 223.82,208.76 224.06,209.16 224.10,209.56 224.10,212.36 223.83,212.76 223.42,213.16 223.01,213.56 222.60,213.96 222.19,214.36 221.78,214.76 221.37,215.16 220.96,215.56 220.55,215.96 220.14,216.36 219.73,216.76 219.32,217.16 218.91,217.56 219.03,217.96 219.44,218.36 219.85,218.76 220.27,219.16 220.68,219.56 221.09,219.96 221.50,220.36 221.91,220.76 222.32,221.16 222.73,221.56 223.14,221.96 223.55,222.36 223.96,222.76 224.10,223.16 224.10,226.76 223.59,227.16 223.06,227.56 222.52,227.96 221.98,228.36 221.45,228.76 220.91,229.16 220.38,229.56 219.84,229.96 219.31,230.36 218.77,230.76 218.23,231.16 217.70,231.56 217.48,231.96 217.75,232.36 218.08,232.76 218.46,233.16 218.88,233.56 219.32,233.96 219.79,234.36 220.29,234.76 220.80,235.16 221.33,235.56 221.88,235.96 222.44,236.36 223.02,236.76 223.62,237.16 224.10,237.56 L224.10,237.56 224.58,237.16 225.18,236.76 225.76,236.36 226.32,235.96 226.87,235.56 227.40,235.16 227.91,234.76 228.41,234.36 228.88,233.96 229.32,233.56 229.74,233.16 230.12,232.76 230.45,232.36 230.72,231.96 230.50,231.56 229.97,231.16 229.43,230.76 228.89,230.36 228.36,229.96 227.82,229.56 227.29,229.16 226.75,228.76 226.22,228.36 225.68,227.96 225.14,227.56 224.61,227.16 224.10,226.76 224.10,223.16 224.24,222.76 224.65,222.36 225.06,221.96 225.47,221.56 225.88,221.16 226.29,220.76 226.70,220.36 227.11,219.96 227.52,219.56 227.93,219.16 228.35,218.76 228.76,218.36 229.17,217.96 229.29,217.56 228.88,217.16 228.47,216.76 228.06,216.36 227.65,215.96 227.24,215.56 226.83,215.16 226.42,214.76 226.01,214.36 225.60,213.96 225.19,213.56 224.78,213.16 224.37,212.76 224.10,212.36 224.10,209.56 224.14,209.16 224.38,208.76 224.61,208.36 224.84,207.96 225.07,207.56 225.29,207.16 225.50,206.76 225.71,206.36 225.91,205.96 226.10,205.56 226.28,205.16 226.45,204.76 226.61,204.36 226.75,203.96 226.82,203.56 226.71,203.16 226.57,202.76 226.41,202.36 226.23,201.96 226.05,201.56 225.85,201.16 225.65,200.76 225.44,200.36 225.22,199.96 225.00,199.56 224.78,199.16 224.54,198.76 224.31,198.36 224.10,197.96 224.10,181.16 224.27,180.76 224.49,180.36 224.71,179.96 224.92,179.56 225.13,179.16 225.33,178.76 225.53,178.36 225.71,177.96 225.90,177.56 226.07,177.16 226.23,176.76 226.38,176.36 226.52,175.96 226.63,175.56 226.58,175.16 226.45,174.76 226.31,174.36 226.15,173.96 225.98,173.56 225.81,173.16 225.62,172.76 225.43,172.36 225.23,171.96 225.02,171.56 224.81,171.16 224.60,170.76 224.38,170.36 224.16,169.96 224.10,169.56 Z" fill="none" stroke="rgba(67,82,161,0.28)" stroke-width="0.6" stroke-linejoin="round"/>
<line x1="224.1" y1="34.66" x2="224.1" y2="231.78" stroke="#4352a1" stroke-width="1.1"/>
<line x1="224.1" y1="34.66" x2="224.1" y2="147.30" stroke="#5261ac" stroke-width="1.9"/>
<rect x="220.50" y="161.38" width="7.2" height="70.40" fill="#3a4896"/>
<circle cx="224.1" cy="203.62" r="2.65" fill="#fff"/>
<path d="M245.48,128.12 245.44,128.52 245.23,128.92 245.03,129.32 244.83,129.72 244.63,130.12 244.45,130.52 244.26,130.92 244.09,131.32 243.93,131.72 243.77,132.12 243.63,132.52 243.51,132.92 243.45,133.32 243.50,133.72 243.58,134.12 243.70,134.52 243.85,134.92 244.02,135.32 244.21,135.72 244.43,136.12 244.67,136.52 244.93,136.92 245.22,137.32 245.48,137.72 245.48,142.52 245.30,142.92 245.03,143.32 244.77,143.72 244.52,144.12 244.28,144.52 244.06,144.92 243.86,145.32 243.67,145.72 243.51,146.12 243.36,146.52 243.25,146.92 243.19,147.32 243.26,147.72 243.38,148.12 243.52,148.52 243.69,148.92 243.88,149.32 244.08,149.72 244.31,150.12 244.54,150.52 244.79,150.92 245.05,151.32 245.33,151.72 245.48,152.12 245.48,156.52 245.36,156.92 245.08,157.32 244.82,157.72 244.57,158.12 244.33,158.52 244.11,158.92 243.90,159.32 243.71,159.72 243.54,160.12 243.39,160.52 243.27,160.92 243.20,161.32 243.24,161.72 243.35,162.12 243.49,162.52 243.66,162.92 243.84,163.32 244.04,163.72 244.26,164.12 244.49,164.52 244.74,164.92 245.00,165.32 245.27,165.72 245.48,166.12 245.48,170.92 245.40,171.32 244.88,171.72 244.36,172.12 243.82,172.52 243.27,172.92 242.71,173.32 242.13,173.72 241.53,174.12 240.90,174.52 240.24,174.92 239.52,175.32 238.69,175.72 238.03,176.12 238.35,176.52 239.04,176.92 240.08,177.32 241.48,177.72 243.25,178.12 245.37,178.52 245.48,178.92 245.48,183.72 245.38,184.12 244.91,184.52 244.45,184.92 243.99,185.32 243.55,185.72 243.12,186.12 242.70,186.52 242.29,186.92 241.90,187.32 241.53,187.72 241.17,188.12 240.84,188.52 240.54,188.92 240.29,189.32 240.27,189.72 240.52,190.12 240.81,190.52 241.14,190.92 241.49,191.32 241.86,191.72 242.25,192.12 242.65,192.52 243.07,192.92 243.50,193.32 243.95,193.72 244.40,194.12 244.86,194.52 245.34,194.92 245.48,195.32 245.48,198.12 245.44,198.52 244.82,198.92 244.20,199.32 243.57,199.72 242.95,200.12 242.33,200.52 241.71,200.92 241.08,201.32 240.46,201.72 239.84,202.12 239.21,202.52 238.59,202.92 237.97,203.32 237.66,203.72 238.28,204.12 238.90,204.52 239.53,204.92 240.15,205.32 240.77,205.72 241.39,206.12 242.02,206.52 242.64,206.92 243.26,207.32 243.89,207.72 244.51,208.12 245.13,208.52 245.48,208.92 245.48,212.52 244.95,212.92 244.32,213.32 243.70,213.72 243.08,214.12 242.45,214.52 241.83,214.92 241.21,215.32 240.58,215.72 239.96,216.12 239.34,216.52 238.72,216.92 238.09,217.32 237.53,217.72 238.15,218.12 238.78,218.52 239.40,218.92 240.02,219.32 240.65,219.72 241.27,220.12 241.89,220.52 242.52,220.92 243.14,221.32 243.76,221.72 244.39,222.12 245.01,222.52 245.48,222.92 245.48,226.52 245.31,226.92 244.49,227.32 243.66,227.72 242.84,228.12 242.02,228.52 241.19,228.92 240.37,229.32 239.54,229.72 238.72,230.12 237.90,230.52 237.07,230.92 236.25,231.32 235.42,231.72 235.56,232.12 236.02,232.52 236.57,232.92 237.18,233.32 237.84,233.72 238.54,234.12 239.27,234.52 240.04,234.92 240.85,235.32 241.67,235.72 242.53,236.12 243.40,236.52 244.30,236.92 245.23,237.32 245.48,237.72 L245.72,237.72 245.97,237.32 246.90,236.92 247.80,236.52 248.67,236.12 249.53,235.72 250.35,235.32 251.16,234.92 251.93,234.52 252.66,234.12 253.36,233.72 254.02,233.32 254.63,232.92 255.18,232.52 255.64,232.12 255.78,231.72 254.95,231.32 254.13,230.92 253.30,230.52 252.48,230.12 251.66,229.72 250.83,229.32 250.01,228.92 249.18,228.52 248.36,228.12 247.54,227.72 246.71,227.32 245.89,226.92 245.72,226.52 245.72,222.92 246.19,222.52 246.81,222.12 247.44,221.72 248.06,221.32 248.68,220.92 249.31,220.52 249.93,220.12 250.55,219.72 251.18,219.32 251.80,218.92 252.42,218.52 253.05,218.12 253.67,217.72 253.11,217.32 252.48,216.92 251.86,216.52 251.24,216.12 250.62,215.72 249.99,215.32 249.37,214.92 248.75,214.52 248.12,214.12 247.50,213.72 246.88,213.32 246.25,212.92 245.72,212.52 245.72,208.92 246.07,208.52 246.69,208.12 247.31,207.72 247.94,207.32 248.56,206.92 249.18,206.52 249.81,206.12 250.43,205.72 251.05,205.32 251.67,204.92 252.30,204.52 252.92,204.12 253.54,203.72 253.23,203.32 252.61,202.92 251.99,202.52 251.36,202.12 250.74,201.72 250.12,201.32 249.49,200.92 248.87,200.52 248.25,200.12 247.63,199.72 247.00,199.32 246.38,198.92 245.76,198.52 245.72,198.12 245.72,195.32 245.86,194.92 246.34,194.52 246.80,194.12 247.25,193.72 247.70,193.32 248.13,192.92 248.55,192.52 248.95,192.12 249.34,191.72 249.71,191.32 250.06,190.92 250.39,190.52 250.68,190.12 250.93,189.72 250.91,189.32 250.66,188.92 250.36,188.52 250.03,188.12 249.67,187.72 249.30,187.32 248.91,186.92 248.50,186.52 248.08,186.12 247.65,185.72 247.21,185.32 246.75,184.92 246.29,184.52 245.82,184.12 245.72,183.72 245.72,178.92 245.83,178.52 247.95,178.12 249.72,177.72 251.12,177.32 252.16,176.92 252.85,176.52 253.17,176.12 252.51,175.72 251.68,175.32 250.96,174.92 250.30,174.52 249.67,174.12 249.07,173.72 248.49,173.32 247.93,172.92 247.38,172.52 246.84,172.12 246.32,171.72 245.80,171.32 245.72,170.92 245.72,166.12 245.93,165.72 246.20,165.32 246.46,164.92 246.71,164.52 246.94,164.12 247.16,163.72 247.36,163.32 247.54,162.92 247.71,162.52 247.85,162.12 247.96,161.72 248.00,161.32 247.93,160.92 247.81,160.52 247.66,160.12 247.49,159.72 247.30,159.32 247.09,158.92 246.87,158.52 246.63,158.12 246.38,157.72 246.12,157.32 245.84,156.92 245.72,156.52 245.72,152.12 245.87,151.72 246.15,151.32 246.41,150.92 246.66,150.52 246.89,150.12 247.12,149.72 247.32,149.32 247.51,148.92 247.68,148.52 247.82,148.12 247.94,147.72 248.01,147.32 247.95,146.92 247.84,146.52 247.69,146.12 247.53,145.72 247.34,145.32 247.14,144.92 246.92,144.52 246.68,144.12 246.43,143.72 246.17,143.32 245.90,142.92 245.72,142.52 245.72,137.72 245.98,137.32 246.27,136.92 246.53,136.52 246.77,136.12 246.99,135.72 247.18,135.32 247.35,134.92 247.50,134.52 247.62,134.12 247.70,133.72 247.75,133.32 247.69,132.92 247.57,132.52 247.43,132.12 247.27,131.72 247.11,131.32 246.94,130.92 246.75,130.52 246.57,130.12 246.37,129.72 246.17,129.32 245.97,128.92 245.76,128.52 245.72,128.12 Z" fill="rgba(236,0,0,0.27)" stroke="#ec0000" stroke-width="0.95" stroke-linejoin="round"/>
<path d="M245.60,170.92 245.47,171.32 245.15,171.72 244.83,172.12 244.50,172.52 244.16,172.92 243.81,173.32 243.45,173.72 243.08,174.12 242.69,174.52 242.27,174.92 241.83,175.32 241.32,175.72 240.91,176.12 241.11,176.52 241.53,176.92 242.18,177.32 243.05,177.72 244.14,178.12 245.46,178.52 245.60,178.92 245.60,183.72 245.47,184.12 245.17,184.52 244.88,184.92 244.60,185.32 244.33,185.72 244.06,186.12 243.80,186.52 243.55,186.92 243.31,187.32 243.07,187.72 242.85,188.12 242.65,188.52 242.47,188.92 242.31,189.32 242.30,189.72 242.45,190.12 242.63,190.52 242.83,190.92 243.05,191.32 243.28,191.72 243.52,192.12 243.77,192.52 244.03,192.92 244.30,193.32 244.57,193.72 244.86,194.12 245.14,194.52 245.44,194.92 245.60,195.32 245.60,198.12 245.50,198.52 245.12,198.92 244.73,199.32 244.34,199.72 243.96,200.12 243.57,200.52 243.19,200.92 242.80,201.32 242.41,201.72 242.03,202.12 241.64,202.52 241.25,202.92 240.87,203.32 240.67,203.72 241.06,204.12 241.45,204.52 241.83,204.92 242.22,205.32 242.61,205.72 242.99,206.12 243.38,206.52 243.77,206.92 244.15,207.32 244.54,207.72 244.92,208.12 245.31,208.52 245.60,208.92 245.60,212.12 245.58,212.52 245.19,212.92 244.81,213.32 244.42,213.72 244.04,214.12 243.65,214.52 243.26,214.92 242.88,215.32 242.49,215.72 242.10,216.12 241.72,216.52 241.33,216.92 240.94,217.32 240.60,217.72 240.98,218.12 241.37,218.52 241.76,218.92 242.14,219.32 242.53,219.72 242.92,220.12 243.30,220.52 243.69,220.92 244.07,221.32 244.46,221.72 244.85,222.12 245.23,222.52 245.60,222.92 245.60,226.52 245.42,226.92 244.91,227.32 244.40,227.72 243.89,228.12 243.38,228.52 242.87,228.92 242.36,229.32 241.85,229.72 241.33,230.12 240.82,230.52 240.31,230.92 239.80,231.32 239.29,231.72 239.38,232.12 239.66,232.52 240.00,232.92 240.38,233.32 240.79,233.72 241.22,234.12 241.68,234.52 242.16,234.92 242.65,235.32 243.17,235.72 243.69,236.12 244.24,236.52 244.80,236.92 245.37,237.32 245.60,237.72 L245.60,237.72 245.83,237.32 246.40,236.92 246.96,236.52 247.51,236.12 248.03,235.72 248.55,235.32 249.04,234.92 249.52,234.52 249.98,234.12 250.41,233.72 250.82,233.32 251.20,232.92 251.54,232.52 251.82,232.12 251.91,231.72 251.40,231.32 250.89,230.92 250.38,230.52 249.87,230.12 249.35,229.72 248.84,229.32 248.33,228.92 247.82,228.52 247.31,228.12 246.80,227.72 246.29,227.32 245.78,226.92 245.60,226.52 245.60,222.92 245.97,222.52 246.35,222.12 246.74,221.72 247.13,221.32 247.51,220.92 247.90,220.52 248.28,220.12 248.67,219.72 249.06,219.32 249.44,218.92 249.83,218.52 250.22,218.12 250.60,217.72 250.26,217.32 249.87,216.92 249.48,216.52 249.10,216.12 248.71,215.72 248.32,215.32 247.94,214.92 247.55,214.52 247.16,214.12 246.78,213.72 246.39,213.32 246.01,212.92 245.62,212.52 245.60,212.12 245.60,208.92 245.89,208.52 246.28,208.12 246.66,207.72 247.05,207.32 247.43,206.92 247.82,206.52 248.21,206.12 248.59,205.72 248.98,205.32 249.37,204.92 249.75,204.52 250.14,204.12 250.53,203.72 250.33,203.32 249.95,202.92 249.56,202.52 249.17,202.12 248.79,201.72 248.40,201.32 248.01,200.92 247.63,200.52 247.24,200.12 246.86,199.72 246.47,199.32 246.08,198.92 245.70,198.52 245.60,198.12 245.60,195.32 245.76,194.92 246.06,194.52 246.34,194.12 246.63,193.72 246.90,193.32 247.17,192.92 247.43,192.52 247.68,192.12 247.92,191.72 248.15,191.32 248.37,190.92 248.57,190.52 248.75,190.12 248.90,189.72 248.89,189.32 248.73,188.92 248.55,188.52 248.35,188.12 248.13,187.72 247.89,187.32 247.65,186.92 247.40,186.52 247.14,186.12 246.87,185.72 246.60,185.32 246.32,184.92 246.03,184.52 245.73,184.12 245.60,183.72 245.60,178.92 245.74,178.52 247.06,178.12 248.15,177.72 249.02,177.32 249.67,176.92 250.09,176.52 250.29,176.12 249.88,175.72 249.37,175.32 248.93,174.92 248.51,174.52 248.12,174.12 247.75,173.72 247.39,173.32 247.04,172.92 246.70,172.52 246.37,172.12 246.05,171.72 245.73,171.32 245.60,170.92 Z" fill="none" stroke="rgba(236,0,0,0.28)" stroke-width="0.6" stroke-linejoin="round"/>
<line x1="245.6" y1="133.22" x2="245.6" y2="231.78" stroke="#ec0000" stroke-width="1.1"/>
<rect x="242.00" y="175.46" width="7.2" height="42.24" fill="#eb0000"/>
<circle cx="245.6" cy="203.62" r="2.65" fill="#fff"/>
<path d="M266.88,240.76 266.81,241.16 266.57,241.56 266.33,241.96 266.10,242.36 265.88,242.76 265.66,243.16 265.45,243.56 265.25,243.96 265.06,244.36 264.88,244.76 264.72,245.16 264.58,245.56 264.51,245.96 264.56,246.36 264.66,246.76 264.80,247.16 264.97,247.56 265.16,247.96 265.39,248.36 265.64,248.76 265.92,249.16 266.23,249.56 266.56,249.96 266.88,250.36 266.88,255.16 266.69,255.56 266.41,255.96 266.14,256.36 265.88,256.76 265.64,257.16 265.41,257.56 265.20,257.96 265.00,258.36 264.83,258.76 264.68,259.16 264.57,259.56 264.51,259.96 264.58,260.36 264.70,260.76 264.85,261.16 265.02,261.56 265.22,261.96 265.43,262.36 265.66,262.76 265.90,263.16 266.16,263.56 266.43,263.96 266.72,264.36 266.88,264.76 266.88,269.56 266.65,269.96 266.07,270.36 265.47,270.76 264.87,271.16 264.24,271.56 263.60,271.96 262.94,272.36 262.25,272.76 261.54,273.16 260.77,273.56 259.94,273.96 258.97,274.36 258.47,274.76 258.92,275.16 259.78,275.56 261.04,275.96 262.71,276.36 264.78,276.76 266.88,277.16 266.88,282.36 266.76,282.76 266.39,283.16 266.03,283.56 265.68,283.96 265.34,284.36 265.00,284.76 264.68,285.16 264.36,285.56 264.06,285.96 263.77,286.36 263.50,286.76 263.25,287.16 263.03,287.56 262.84,287.96 262.89,288.36 263.09,288.76 263.32,289.16 263.58,289.56 263.86,289.96 264.15,290.36 264.46,290.76 264.77,291.16 265.10,291.56 265.44,291.96 265.78,292.36 266.14,292.76 266.50,293.16 266.87,293.56 266.88,293.96 266.88,297.16 265.74,297.56 264.09,297.96 262.61,298.36 261.29,298.76 260.13,299.16 259.13,299.56 258.27,299.96 257.57,300.36 257.01,300.76 256.59,301.16 256.29,301.56 256.12,301.96 256.05,302.36 256.68,302.76 257.57,303.16 258.46,303.56 259.36,303.96 260.25,304.36 261.15,304.76 262.04,305.16 262.93,305.56 263.83,305.96 264.72,306.36 265.61,306.76 266.51,307.16 266.88,307.56 266.88,311.16 266.53,311.56 266.15,311.96 265.78,312.36 265.40,312.76 265.02,313.16 264.64,313.56 264.27,313.96 263.89,314.36 263.51,314.76 263.14,315.16 262.76,315.56 262.38,315.96 262.19,316.36 262.57,316.76 262.95,317.16 263.32,317.56 263.70,317.96 264.08,318.36 264.46,318.76 264.83,319.16 265.21,319.56 265.59,319.96 265.96,320.36 266.34,320.76 266.72,321.16 266.88,321.56 266.88,325.56 266.80,325.96 266.46,326.36 266.13,326.76 265.84,327.16 265.57,327.56 265.32,327.96 265.10,328.36 264.91,328.76 264.75,329.16 264.63,329.56 264.54,329.96 264.51,330.36 264.62,330.76 264.77,331.16 264.93,331.56 265.12,331.96 265.31,332.36 265.51,332.76 265.72,333.16 265.94,333.56 266.17,333.96 266.40,334.36 266.64,334.76 266.88,335.16 266.88,335.56 L267.12,335.56 267.12,335.16 267.36,334.76 267.60,334.36 267.83,333.96 268.06,333.56 268.28,333.16 268.49,332.76 268.69,332.36 268.88,331.96 269.07,331.56 269.23,331.16 269.38,330.76 269.49,330.36 269.46,329.96 269.37,329.56 269.25,329.16 269.09,328.76 268.90,328.36 268.68,327.96 268.43,327.56 268.16,327.16 267.87,326.76 267.54,326.36 267.20,325.96 267.12,325.56 267.12,321.56 267.28,321.16 267.66,320.76 268.04,320.36 268.41,319.96 268.79,319.56 269.17,319.16 269.54,318.76 269.92,318.36 270.30,317.96 270.68,317.56 271.05,317.16 271.43,316.76 271.81,316.36 271.62,315.96 271.24,315.56 270.86,315.16 270.49,314.76 270.11,314.36 269.73,313.96 269.36,313.56 268.98,313.16 268.60,312.76 268.22,312.36 267.85,311.96 267.47,311.56 267.12,311.16 267.12,307.56 267.49,307.16 268.39,306.76 269.28,306.36 270.17,305.96 271.07,305.56 271.96,305.16 272.85,304.76 273.75,304.36 274.64,303.96 275.54,303.56 276.43,303.16 277.32,302.76 277.95,302.36 277.88,301.96 277.71,301.56 277.41,301.16 276.99,300.76 276.43,300.36 275.73,299.96 274.87,299.56 273.87,299.16 272.71,298.76 271.39,298.36 269.91,297.96 268.26,297.56 267.12,297.16 267.12,293.96 267.13,293.56 267.50,293.16 267.86,292.76 268.22,292.36 268.56,291.96 268.90,291.56 269.23,291.16 269.54,290.76 269.85,290.36 270.14,289.96 270.42,289.56 270.68,289.16 270.91,288.76 271.11,288.36 271.16,287.96 270.97,287.56 270.75,287.16 270.50,286.76 270.23,286.36 269.94,285.96 269.64,285.56 269.32,285.16 269.00,284.76 268.66,284.36 268.32,283.96 267.97,283.56 267.61,283.16 267.24,282.76 267.12,282.36 267.12,277.16 269.22,276.76 271.29,276.36 272.96,275.96 274.22,275.56 275.08,275.16 275.53,274.76 275.03,274.36 274.06,273.96 273.23,273.56 272.46,273.16 271.75,272.76 271.06,272.36 270.40,271.96 269.76,271.56 269.13,271.16 268.53,270.76 267.93,270.36 267.35,269.96 267.12,269.56 267.12,264.76 267.28,264.36 267.57,263.96 267.84,263.56 268.10,263.16 268.34,262.76 268.57,262.36 268.78,261.96 268.98,261.56 269.15,261.16 269.30,260.76 269.42,260.36 269.49,259.96 269.43,259.56 269.32,259.16 269.17,258.76 269.00,258.36 268.80,257.96 268.59,257.56 268.36,257.16 268.12,256.76 267.86,256.36 267.59,255.96 267.31,255.56 267.12,255.16 267.12,250.36 267.44,249.96 267.77,249.56 268.08,249.16 268.36,248.76 268.61,248.36 268.84,247.96 269.03,247.56 269.20,247.16 269.34,246.76 269.44,246.36 269.49,245.96 269.42,245.56 269.28,245.16 269.12,244.76 268.94,244.36 268.75,243.96 268.55,243.56 268.34,243.16 268.12,242.76 267.90,242.36 267.67,241.96 267.43,241.56 267.19,241.16 267.12,240.76 Z" fill="rgba(12,140,69,0.27)" stroke="#0c8c45" stroke-width="0.95" stroke-linejoin="round"/>
<path d="M267.00,269.56 266.79,269.96 266.42,270.36 266.05,270.76 265.68,271.16 265.29,271.56 264.89,271.96 264.48,272.36 264.06,272.76 263.61,273.16 263.14,273.56 262.62,273.96 262.02,274.36 261.71,274.76 261.99,275.16 262.52,275.56 263.30,275.96 264.34,276.36 265.63,276.76 267.00,277.16 267.00,282.36 266.85,282.76 266.62,283.16 266.40,283.56 266.18,283.96 265.97,284.36 265.76,284.76 265.56,285.16 265.37,285.56 265.18,285.96 265.00,286.36 264.83,286.76 264.68,287.16 264.54,287.56 264.42,287.96 264.45,288.36 264.58,288.76 264.72,289.16 264.88,289.56 265.05,289.96 265.23,290.36 265.42,290.76 265.62,291.16 265.82,291.56 266.03,291.96 266.25,292.36 266.47,292.76 266.69,293.16 266.92,293.56 267.00,293.96 267.00,297.16 266.22,297.56 265.20,297.96 264.28,298.36 263.46,298.76 262.74,299.16 262.12,299.56 261.59,299.96 261.15,300.36 260.81,300.76 260.54,301.16 260.36,301.56 260.25,301.96 260.21,302.36 260.60,302.76 261.15,303.16 261.71,303.56 262.26,303.96 262.82,304.36 263.37,304.76 263.92,305.16 264.48,305.56 265.03,305.96 265.59,306.36 266.14,306.76 266.70,307.16 267.00,307.56 267.00,310.76 266.94,311.16 266.71,311.56 266.47,311.96 266.24,312.36 266.01,312.76 265.77,313.16 265.54,313.56 265.31,313.96 265.07,314.36 264.84,314.76 264.60,315.16 264.37,315.56 264.14,315.96 264.02,316.36 264.25,316.76 264.49,317.16 264.72,317.56 264.96,317.96 265.19,318.36 265.42,318.76 265.66,319.16 265.89,319.56 266.12,319.96 266.36,320.36 266.59,320.76 266.82,321.16 267.00,321.56 L267.00,321.56 267.18,321.16 267.41,320.76 267.64,320.36 267.88,319.96 268.11,319.56 268.34,319.16 268.58,318.76 268.81,318.36 269.04,317.96 269.28,317.56 269.51,317.16 269.75,316.76 269.98,316.36 269.86,315.96 269.63,315.56 269.40,315.16 269.16,314.76 268.93,314.36 268.69,313.96 268.46,313.56 268.23,313.16 267.99,312.76 267.76,312.36 267.53,311.96 267.29,311.56 267.06,311.16 267.00,310.76 267.00,307.56 267.30,307.16 267.86,306.76 268.41,306.36 268.97,305.96 269.52,305.56 270.08,305.16 270.63,304.76 271.18,304.36 271.74,303.96 272.29,303.56 272.85,303.16 273.40,302.76 273.79,302.36 273.75,301.96 273.64,301.56 273.46,301.16 273.19,300.76 272.85,300.36 272.41,299.96 271.88,299.56 271.26,299.16 270.54,298.76 269.72,298.36 268.80,297.96 267.78,297.56 267.00,297.16 267.00,293.96 267.08,293.56 267.31,293.16 267.53,292.76 267.75,292.36 267.97,291.96 268.18,291.56 268.38,291.16 268.58,290.76 268.77,290.36 268.95,289.96 269.12,289.56 269.28,289.16 269.42,288.76 269.55,288.36 269.58,287.96 269.46,287.56 269.32,287.16 269.17,286.76 269.00,286.36 268.82,285.96 268.63,285.56 268.44,285.16 268.24,284.76 268.03,284.36 267.82,283.96 267.60,283.56 267.38,283.16 267.15,282.76 267.00,282.36 267.00,277.16 268.37,276.76 269.66,276.36 270.70,275.96 271.48,275.56 272.01,275.16 272.29,274.76 271.98,274.36 271.38,273.96 270.86,273.56 270.39,273.16 269.94,272.76 269.52,272.36 269.11,271.96 268.71,271.56 268.32,271.16 267.95,270.76 267.58,270.36 267.21,269.96 267.00,269.56 Z" fill="none" stroke="rgba(12,140,69,0.28)" stroke-width="0.6" stroke-linejoin="round"/>
<line x1="267.0" y1="245.86" x2="267.0" y2="330.34" stroke="#0c8c45" stroke-width="1.1"/>
<rect x="263.40" y="274.02" width="7.2" height="28.16" fill="#088c44"/>
<circle cx="267.0" cy="295.14" r="2.65" fill="#fff"/>
<path d="M312.98,142.20 312.95,142.60 312.75,143.00 312.55,143.40 312.36,143.80 312.17,144.20 311.99,144.60 311.82,145.00 311.65,145.40 311.49,145.80 311.35,146.20 311.21,146.60 311.10,147.00 311.04,147.40 311.08,147.80 311.16,148.20 311.28,148.60 311.42,149.00 311.58,149.40 311.77,149.80 311.98,150.20 312.21,150.60 312.46,151.00 312.73,151.40 312.98,151.80 312.98,156.60 312.85,157.00 312.63,157.40 312.41,157.80 312.21,158.20 312.02,158.60 311.84,159.00 311.67,159.40 311.52,159.80 311.38,160.20 311.26,160.60 311.17,161.00 311.12,161.40 311.18,161.80 311.27,162.20 311.39,162.60 311.53,163.00 311.69,163.40 311.85,163.80 312.04,164.20 312.23,164.60 312.44,165.00 312.65,165.40 312.88,165.80 312.98,166.20 312.98,184.60 312.94,185.00 312.70,185.40 312.47,185.80 312.26,186.20 312.05,186.60 311.86,187.00 311.68,187.40 311.51,187.80 311.36,188.20 311.23,188.60 311.12,189.00 311.05,189.40 311.07,189.80 311.15,190.20 311.27,190.60 311.40,191.00 311.56,191.40 311.73,191.80 311.91,192.20 312.11,192.60 312.32,193.00 312.54,193.40 312.77,193.80 312.98,194.20 312.98,199.00 312.73,199.40 312.49,199.80 312.27,200.20 312.05,200.60 311.84,201.00 311.65,201.40 311.48,201.80 311.32,202.20 311.18,202.60 311.06,203.00 310.97,203.40 310.97,203.80 311.05,204.20 311.16,204.60 311.30,205.00 311.46,205.40 311.63,205.80 311.82,206.20 312.03,206.60 312.24,207.00 312.47,207.40 312.71,207.80 312.96,208.20 312.98,208.60 312.98,226.60 312.49,227.00 311.90,227.40 311.32,227.80 310.73,228.20 310.15,228.60 309.56,229.00 308.98,229.40 308.39,229.80 307.81,230.20 307.22,230.60 306.64,231.00 306.06,231.40 305.53,231.80 306.11,232.20 306.70,232.60 307.28,233.00 307.87,233.40 308.45,233.80 309.04,234.20 309.62,234.60 310.21,235.00 310.79,235.40 311.38,235.80 311.96,236.20 312.54,236.60 312.98,237.00 312.98,240.20 312.78,240.60 312.42,241.00 312.06,241.40 311.71,241.80 311.37,242.20 311.04,242.60 310.71,243.00 310.40,243.40 310.10,243.80 309.82,244.20 309.55,244.60 309.30,245.00 309.08,245.40 308.91,245.80 309.03,246.20 309.23,246.60 309.47,247.00 309.74,247.40 310.02,247.80 310.31,248.20 310.62,248.60 310.94,249.00 311.27,249.40 311.61,249.80 311.95,250.20 312.31,250.60 312.67,251.00 312.98,251.40 312.98,255.00 311.55,255.40 309.99,255.80 308.58,256.20 307.34,256.60 306.24,257.00 305.30,257.40 304.51,257.80 303.85,258.20 303.34,258.60 302.95,259.00 302.69,259.40 302.55,259.80 302.50,260.20 303.28,260.60 304.14,261.00 305.01,261.40 305.87,261.80 306.74,262.20 307.61,262.60 308.47,263.00 309.34,263.40 310.20,263.80 311.07,264.20 311.93,264.60 312.80,265.00 312.98,265.40 312.98,269.00 312.90,269.40 312.45,269.80 312.03,270.20 311.62,270.60 311.24,271.00 310.88,271.40 310.54,271.80 310.23,272.20 309.95,272.60 309.70,273.00 309.50,273.40 309.34,273.80 309.33,274.20 309.48,274.60 309.68,275.00 309.92,275.40 310.20,275.80 310.51,276.20 310.84,276.60 311.20,277.00 311.59,277.40 311.99,277.80 312.41,278.20 312.85,278.60 312.98,279.00 312.98,283.40 312.89,283.80 312.62,284.20 312.36,284.60 312.13,285.00 311.92,285.40 311.73,285.80 311.56,286.20 311.42,286.60 311.30,287.00 311.20,287.40 311.14,287.80 311.12,288.20 311.13,288.60 311.16,289.00 311.21,289.40 311.27,289.80 311.35,290.20 311.46,290.60 311.59,291.00 311.76,291.40 311.97,291.80 312.28,292.20 312.98,292.60 L313.22,292.60 313.92,292.20 314.23,291.80 314.44,291.40 314.61,291.00 314.74,290.60 314.85,290.20 314.93,289.80 314.99,289.40 315.04,289.00 315.07,288.60 315.08,288.20 315.06,287.80 315.00,287.40 314.90,287.00 314.78,286.60 314.64,286.20 314.47,285.80 314.28,285.40 314.07,285.00 313.84,284.60 313.58,284.20 313.31,283.80 313.22,283.40 313.22,279.00 313.35,278.60 313.79,278.20 314.21,277.80 314.61,277.40 315.00,277.00 315.36,276.60 315.69,276.20 316.00,275.80 316.28,275.40 316.52,275.00 316.72,274.60 316.87,274.20 316.86,273.80 316.70,273.40 316.50,273.00 316.25,272.60 315.97,272.20 315.66,271.80 315.32,271.40 314.96,271.00 314.58,270.60 314.17,270.20 313.75,269.80 313.30,269.40 313.22,269.00 313.22,265.40 313.40,265.00 314.27,264.60 315.13,264.20 316.00,263.80 316.86,263.40 317.73,263.00 318.59,262.60 319.46,262.20 320.33,261.80 321.19,261.40 322.06,261.00 322.92,260.60 323.70,260.20 323.65,259.80 323.51,259.40 323.25,259.00 322.86,258.60 322.35,258.20 321.69,257.80 320.90,257.40 319.96,257.00 318.86,256.60 317.62,256.20 316.21,255.80 314.65,255.40 313.22,255.00 313.22,251.40 313.53,251.00 313.89,250.60 314.25,250.20 314.59,249.80 314.93,249.40 315.26,249.00 315.58,248.60 315.89,248.20 316.18,247.80 316.46,247.40 316.73,247.00 316.97,246.60 317.17,246.20 317.29,245.80 317.12,245.40 316.90,245.00 316.65,244.60 316.38,244.20 316.10,243.80 315.80,243.40 315.49,243.00 315.16,242.60 314.83,242.20 314.49,241.80 314.14,241.40 313.78,241.00 313.42,240.60 313.22,240.20 313.22,237.00 313.66,236.60 314.24,236.20 314.82,235.80 315.41,235.40 315.99,235.00 316.58,234.60 317.16,234.20 317.75,233.80 318.33,233.40 318.92,233.00 319.50,232.60 320.09,232.20 320.67,231.80 320.14,231.40 319.56,231.00 318.98,230.60 318.39,230.20 317.81,229.80 317.22,229.40 316.64,229.00 316.05,228.60 315.47,228.20 314.88,227.80 314.30,227.40 313.71,227.00 313.22,226.60 313.22,208.60 313.24,208.20 313.49,207.80 313.73,207.40 313.96,207.00 314.17,206.60 314.38,206.20 314.57,205.80 314.74,205.40 314.90,205.00 315.04,204.60 315.15,204.20 315.23,203.80 315.23,203.40 315.14,203.00 315.02,202.60 314.88,202.20 314.72,201.80 314.55,201.40 314.36,201.00 314.15,200.60 313.93,200.20 313.71,199.80 313.47,199.40 313.22,199.00 313.22,194.20 313.43,193.80 313.66,193.40 313.88,193.00 314.09,192.60 314.29,192.20 314.47,191.80 314.64,191.40 314.80,191.00 314.93,190.60 315.05,190.20 315.13,189.80 315.15,189.40 315.08,189.00 314.97,188.60 314.84,188.20 314.69,187.80 314.52,187.40 314.34,187.00 314.15,186.60 313.94,186.20 313.73,185.80 313.50,185.40 313.26,185.00 313.22,184.60 313.22,166.20 313.32,165.80 313.55,165.40 313.76,165.00 313.97,164.60 314.16,164.20 314.35,163.80 314.51,163.40 314.67,163.00 314.81,162.60 314.93,162.20 315.02,161.80 315.08,161.40 315.03,161.00 314.94,160.60 314.82,160.20 314.68,159.80 314.53,159.40 314.36,159.00 314.18,158.60 313.99,158.20 313.79,157.80 313.57,157.40 313.35,157.00 313.22,156.60 313.22,151.80 313.47,151.40 313.74,151.00 313.99,150.60 314.22,150.20 314.43,149.80 314.62,149.40 314.78,149.00 314.92,148.60 315.04,148.20 315.12,147.80 315.16,147.40 315.10,147.00 314.99,146.60 314.85,146.20 314.71,145.80 314.55,145.40 314.38,145.00 314.21,144.60 314.03,144.20 313.84,143.80 313.65,143.40 313.45,143.00 313.25,142.60 313.22,142.20 Z" fill="rgba(67,82,161,0.27)" stroke="#4352a1" stroke-width="0.95" stroke-linejoin="round"/>
<path d="M313.10,226.20 313.08,226.60 312.72,227.00 312.36,227.40 311.99,227.80 311.63,228.20 311.27,228.60 310.91,229.00 310.54,229.40 310.18,229.80 309.82,230.20 309.46,230.60 309.09,231.00 308.73,231.40 308.41,231.80 308.77,232.20 309.13,232.60 309.49,233.00 309.86,233.40 310.22,233.80 310.58,234.20 310.94,234.60 311.31,235.00 311.67,235.40 312.03,235.80 312.39,236.20 312.76,236.60 313.10,237.00 313.10,240.20 312.90,240.60 312.68,241.00 312.46,241.40 312.24,241.80 312.03,242.20 311.82,242.60 311.62,243.00 311.43,243.40 311.24,243.80 311.07,244.20 310.90,244.60 310.75,245.00 310.61,245.40 310.50,245.80 310.57,246.20 310.70,246.60 310.85,247.00 311.01,247.40 311.19,247.80 311.37,248.20 311.56,248.60 311.76,249.00 311.96,249.40 312.17,249.80 312.39,250.20 312.61,250.60 312.84,251.00 313.07,251.40 313.10,251.80 313.10,255.00 312.14,255.40 311.17,255.80 310.30,256.20 309.53,256.60 308.85,257.00 308.26,257.40 307.77,257.80 307.37,258.20 307.05,258.60 306.81,259.00 306.65,259.40 306.56,259.80 306.53,260.20 307.01,260.60 307.55,261.00 308.08,261.40 308.62,261.80 309.16,262.20 309.69,262.60 310.23,263.00 310.77,263.40 311.30,263.80 311.84,264.20 312.38,264.60 312.91,265.00 313.10,265.40 313.10,269.00 312.97,269.40 312.70,269.80 312.44,270.20 312.19,270.60 311.95,271.00 311.72,271.40 311.51,271.80 311.32,272.20 311.15,272.60 310.99,273.00 310.87,273.40 310.77,273.80 310.76,274.20 310.85,274.60 310.98,275.00 311.13,275.40 311.30,275.80 311.49,276.20 311.70,276.60 311.92,277.00 312.16,277.40 312.41,277.80 312.67,278.20 312.95,278.60 313.10,279.00 L313.10,279.00 313.25,278.60 313.53,278.20 313.79,277.80 314.04,277.40 314.28,277.00 314.50,276.60 314.71,276.20 314.90,275.80 315.07,275.40 315.22,275.00 315.35,274.60 315.44,274.20 315.43,273.80 315.33,273.40 315.21,273.00 315.05,272.60 314.88,272.20 314.69,271.80 314.48,271.40 314.25,271.00 314.01,270.60 313.76,270.20 313.50,269.80 313.23,269.40 313.10,269.00 313.10,265.40 313.29,265.00 313.82,264.60 314.36,264.20 314.90,263.80 315.43,263.40 315.97,263.00 316.51,262.60 317.04,262.20 317.58,261.80 318.12,261.40 318.65,261.00 319.19,260.60 319.67,260.20 319.64,259.80 319.55,259.40 319.39,259.00 319.15,258.60 318.83,258.20 318.43,257.80 317.94,257.40 317.35,257.00 316.67,256.60 315.90,256.20 315.03,255.80 314.06,255.40 313.10,255.00 313.10,251.80 313.13,251.40 313.36,251.00 313.59,250.60 313.81,250.20 314.03,249.80 314.24,249.40 314.44,249.00 314.64,248.60 314.83,248.20 315.01,247.80 315.19,247.40 315.35,247.00 315.50,246.60 315.63,246.20 315.70,245.80 315.59,245.40 315.45,245.00 315.30,244.60 315.13,244.20 314.96,243.80 314.77,243.40 314.58,243.00 314.38,242.60 314.17,242.20 313.96,241.80 313.74,241.40 313.52,241.00 313.30,240.60 313.10,240.20 313.10,237.00 313.44,236.60 313.81,236.20 314.17,235.80 314.53,235.40 314.89,235.00 315.26,234.60 315.62,234.20 315.98,233.80 316.34,233.40 316.71,233.00 317.07,232.60 317.43,232.20 317.79,231.80 317.47,231.40 317.11,231.00 316.74,230.60 316.38,230.20 316.02,229.80 315.66,229.40 315.29,229.00 314.93,228.60 314.57,228.20 314.21,227.80 313.84,227.40 313.48,227.00 313.12,226.60 313.10,226.20 Z" fill="none" stroke="rgba(67,82,161,0.28)" stroke-width="0.6" stroke-linejoin="round"/>
<line x1="313.1" y1="147.30" x2="313.1" y2="288.10" stroke="#4352a1" stroke-width="1.1"/>
<line x1="313.1" y1="147.30" x2="313.1" y2="189.54" stroke="#5261ac" stroke-width="1.9"/>
<rect x="309.50" y="231.78" width="7.2" height="28.16" fill="#3a4896"/>
<circle cx="313.1" cy="245.86" r="2.65" fill="#fff"/>
<path d="M334.48,226.68 334.47,227.08 334.29,227.48 334.12,227.88 333.95,228.28 333.79,228.68 333.63,229.08 333.48,229.48 333.33,229.88 333.19,230.28 333.07,230.68 332.95,231.08 332.85,231.48 332.80,231.88 332.84,232.28 332.91,232.68 333.00,233.08 333.13,233.48 333.27,233.88 333.43,234.28 333.62,234.68 333.82,235.08 334.04,235.48 334.28,235.88 334.48,236.28 334.48,240.68 334.31,241.08 334.03,241.48 333.76,241.88 333.48,242.28 333.20,242.68 332.92,243.08 332.65,243.48 332.37,243.88 332.09,244.28 331.82,244.68 331.54,245.08 331.26,245.48 331.01,245.88 331.29,246.28 331.57,246.68 331.84,247.08 332.12,247.48 332.40,247.88 332.68,248.28 332.95,248.68 333.23,249.08 333.51,249.48 333.78,249.88 334.06,250.28 334.34,250.68 334.48,251.08 334.48,254.68 334.33,255.08 333.59,255.48 332.88,255.88 332.22,256.28 331.60,256.68 331.02,257.08 330.49,257.48 330.01,257.88 329.57,258.28 329.18,258.68 328.85,259.08 328.58,259.48 328.37,259.88 328.23,260.28 328.22,260.68 328.48,261.08 329.04,261.48 329.90,261.88 331.07,262.28 332.54,262.68 334.31,263.08 334.48,263.48 334.48,269.08 333.02,269.48 331.43,269.88 330.00,270.28 328.73,270.68 327.61,271.08 326.65,271.48 325.84,271.88 325.18,272.28 324.65,272.68 324.26,273.08 324.00,273.48 323.85,273.88 323.80,274.28 324.59,274.68 325.48,275.08 326.36,275.48 327.24,275.88 328.12,276.28 329.00,276.68 329.88,277.08 330.76,277.48 331.65,277.88 332.53,278.28 333.41,278.68 334.29,279.08 334.48,279.48 334.48,284.28 333.32,284.68 332.13,285.08 331.09,285.48 330.22,285.88 329.50,286.28 328.94,286.68 328.53,287.08 328.29,287.48 328.20,287.88 328.27,288.28 328.41,288.68 328.61,289.08 328.84,289.48 329.10,289.88 329.40,290.28 329.73,290.68 330.08,291.08 330.46,291.48 330.87,291.88 331.29,292.28 331.74,292.68 332.21,293.08 332.70,293.48 333.21,293.88 333.74,294.28 334.29,294.68 334.48,295.08 L334.72,295.08 334.91,294.68 335.46,294.28 335.99,293.88 336.50,293.48 336.99,293.08 337.46,292.68 337.91,292.28 338.33,291.88 338.74,291.48 339.12,291.08 339.47,290.68 339.80,290.28 340.10,289.88 340.36,289.48 340.59,289.08 340.79,288.68 340.93,288.28 341.00,287.88 340.91,287.48 340.67,287.08 340.26,286.68 339.70,286.28 338.98,285.88 338.11,285.48 337.07,285.08 335.88,284.68 334.72,284.28 334.72,279.48 334.91,279.08 335.79,278.68 336.67,278.28 337.55,277.88 338.44,277.48 339.32,277.08 340.20,276.68 341.08,276.28 341.96,275.88 342.84,275.48 343.72,275.08 344.61,274.68 345.40,274.28 345.35,273.88 345.20,273.48 344.94,273.08 344.55,272.68 344.02,272.28 343.36,271.88 342.55,271.48 341.59,271.08 340.47,270.68 339.20,270.28 337.77,269.88 336.18,269.48 334.72,269.08 334.72,263.48 334.89,263.08 336.66,262.68 338.13,262.28 339.30,261.88 340.16,261.48 340.72,261.08 340.98,260.68 340.97,260.28 340.83,259.88 340.62,259.48 340.35,259.08 340.02,258.68 339.63,258.28 339.19,257.88 338.71,257.48 338.18,257.08 337.60,256.68 336.98,256.28 336.32,255.88 335.61,255.48 334.87,255.08 334.72,254.68 334.72,251.08 334.86,250.68 335.14,250.28 335.42,249.88 335.69,249.48 335.97,249.08 336.25,248.68 336.52,248.28 336.80,247.88 337.08,247.48 337.36,247.08 337.63,246.68 337.91,246.28 338.19,245.88 337.94,245.48 337.66,245.08 337.38,244.68 337.11,244.28 336.83,243.88 336.55,243.48 336.28,243.08 336.00,242.68 335.72,242.28 335.44,241.88 335.17,241.48 334.89,241.08 334.72,240.68 334.72,236.28 334.92,235.88 335.16,235.48 335.38,235.08 335.58,234.68 335.77,234.28 335.93,233.88 336.07,233.48 336.20,233.08 336.29,232.68 336.36,232.28 336.40,231.88 336.35,231.48 336.25,231.08 336.13,230.68 336.01,230.28 335.87,229.88 335.72,229.48 335.57,229.08 335.41,228.68 335.25,228.28 335.08,227.88 334.91,227.48 334.73,227.08 334.72,226.68 Z" fill="rgba(236,0,0,0.27)" stroke="#ec0000" stroke-width="0.95" stroke-linejoin="round"/>
<path d="M334.60,240.28 334.59,240.68 334.42,241.08 334.25,241.48 334.08,241.88 333.90,242.28 333.73,242.68 333.56,243.08 333.39,243.48 333.22,243.88 333.05,244.28 332.87,244.68 332.70,245.08 332.53,245.48 332.38,245.88 332.55,246.28 332.72,246.68 332.89,247.08 333.06,247.48 333.24,247.88 333.41,248.28 333.58,248.68 333.75,249.08 333.92,249.48 334.09,249.88 334.27,250.28 334.44,250.68 334.60,251.08 334.60,254.68 334.43,255.08 333.97,255.48 333.54,255.88 333.12,256.28 332.74,256.68 332.38,257.08 332.05,257.48 331.75,257.88 331.48,258.28 331.24,258.68 331.04,259.08 330.87,259.48 330.74,259.88 330.65,260.28 330.64,260.68 330.80,261.08 331.15,261.48 331.69,261.88 332.41,262.28 333.32,262.68 334.42,263.08 334.60,263.48 334.60,269.08 333.62,269.48 332.63,269.88 331.75,270.28 330.96,270.68 330.27,271.08 329.67,271.48 329.17,271.88 328.76,272.28 328.43,272.68 328.19,273.08 328.03,273.48 327.93,273.88 327.90,274.28 328.40,274.68 328.94,275.08 329.49,275.48 330.04,275.88 330.58,276.28 331.13,276.68 331.68,277.08 332.22,277.48 332.77,277.88 333.32,278.28 333.86,278.68 334.41,279.08 334.60,279.48 334.60,284.28 333.81,284.68 333.07,285.08 332.43,285.48 331.88,285.88 331.44,286.28 331.09,286.68 330.84,287.08 330.69,287.48 330.63,287.88 330.68,288.28 330.76,288.68 330.88,289.08 331.03,289.48 331.19,289.88 331.38,290.28 331.58,290.68 331.80,291.08 332.04,291.48 332.29,291.88 332.55,292.28 332.83,292.68 333.12,293.08 333.42,293.48 333.74,293.88 334.07,294.28 334.41,294.68 334.60,295.08 L334.60,295.08 334.79,294.68 335.13,294.28 335.46,293.88 335.78,293.48 336.08,293.08 336.37,292.68 336.65,292.28 336.91,291.88 337.16,291.48 337.40,291.08 337.62,290.68 337.82,290.28 338.01,289.88 338.17,289.48 338.32,289.08 338.44,288.68 338.52,288.28 338.57,287.88 338.51,287.48 338.36,287.08 338.11,286.68 337.76,286.28 337.32,285.88 336.77,285.48 336.13,285.08 335.39,284.68 334.60,284.28 334.60,279.48 334.79,279.08 335.34,278.68 335.88,278.28 336.43,277.88 336.98,277.48 337.52,277.08 338.07,276.68 338.62,276.28 339.16,275.88 339.71,275.48 340.26,275.08 340.80,274.68 341.30,274.28 341.27,273.88 341.17,273.48 341.01,273.08 340.77,272.68 340.44,272.28 340.03,271.88 339.53,271.48 338.93,271.08 338.24,270.68 337.45,270.28 336.57,269.88 335.58,269.48 334.60,269.08 334.60,263.48 334.78,263.08 335.88,262.68 336.79,262.28 337.51,261.88 338.05,261.48 338.40,261.08 338.56,260.68 338.55,260.28 338.46,259.88 338.33,259.48 338.16,259.08 337.96,258.68 337.72,258.28 337.45,257.88 337.15,257.48 336.82,257.08 336.46,256.68 336.08,256.28 335.66,255.88 335.23,255.48 334.77,255.08 334.60,254.68 334.60,251.08 334.76,250.68 334.93,250.28 335.11,249.88 335.28,249.48 335.45,249.08 335.62,248.68 335.79,248.28 335.96,247.88 336.14,247.48 336.31,247.08 336.48,246.68 336.65,246.28 336.82,245.88 336.67,245.48 336.50,245.08 336.33,244.68 336.15,244.28 335.98,243.88 335.81,243.48 335.64,243.08 335.47,242.68 335.30,242.28 335.12,241.88 334.95,241.48 334.78,241.08 334.61,240.68 334.60,240.28 Z" fill="none" stroke="rgba(236,0,0,0.28)" stroke-width="0.6" stroke-linejoin="round"/>
<line x1="334.6" y1="231.78" x2="334.6" y2="288.10" stroke="#ec0000" stroke-width="1.1"/>
<rect x="331.00" y="259.94" width="7.2" height="14.08" fill="#eb0000"/>
<circle cx="334.6" cy="274.02" r="2.65" fill="#fff"/>
<path d="M355.88,240.76 355.81,241.16 355.57,241.56 355.33,241.96 355.10,242.36 354.88,242.76 354.66,243.16 354.45,243.56 354.25,243.96 354.06,244.36 353.88,244.76 353.72,245.16 353.58,245.56 353.51,245.96 353.56,246.36 353.66,246.76 353.80,247.16 353.97,247.56 354.16,247.96 354.39,248.36 354.64,248.76 354.92,249.16 355.23,249.56 355.56,249.96 355.88,250.36 355.88,268.36 355.51,268.76 354.94,269.16 354.39,269.56 353.85,269.96 353.32,270.36 352.81,270.76 352.31,271.16 351.82,271.56 351.36,271.96 350.92,272.36 350.51,272.76 350.12,273.16 349.79,273.56 349.52,273.96 349.70,274.36 350.02,274.76 350.39,275.16 350.79,275.56 351.23,275.96 351.68,276.36 352.16,276.76 352.65,277.16 353.16,277.56 353.69,277.96 354.23,278.36 354.78,278.76 355.34,279.16 355.88,279.56 355.88,282.36 355.41,282.76 354.51,283.16 353.62,283.56 352.76,283.96 351.92,284.36 351.10,284.76 350.30,285.16 349.53,285.56 348.79,285.96 348.09,286.36 347.42,286.76 346.81,287.16 346.25,287.56 345.80,287.96 345.92,288.36 346.41,288.76 346.99,289.16 347.62,289.56 348.30,289.96 349.01,290.36 349.76,290.76 350.54,291.16 351.34,291.56 352.17,291.96 353.02,292.36 353.89,292.76 354.77,293.16 355.68,293.56 355.88,293.96 355.88,297.16 354.74,297.56 353.08,297.96 351.59,298.36 350.26,298.76 349.10,299.16 348.09,299.56 347.23,299.96 346.53,300.36 345.96,300.76 345.54,301.16 345.24,301.56 345.07,301.96 345.00,302.36 345.63,302.76 346.53,303.16 347.42,303.56 348.32,303.96 349.22,304.36 350.12,304.76 351.02,305.16 351.91,305.56 352.81,305.96 353.71,306.36 354.61,306.76 355.51,307.16 355.88,307.56 355.88,311.56 355.84,311.96 355.21,312.36 354.61,312.76 354.04,313.16 353.51,313.56 353.01,313.96 352.56,314.36 352.16,314.76 351.80,315.16 351.50,315.56 351.29,315.96 351.21,316.36 351.34,316.76 351.55,317.16 351.80,317.56 352.10,317.96 352.43,318.36 352.80,318.76 353.20,319.16 353.63,319.56 354.08,319.96 354.56,320.36 355.06,320.76 355.59,321.16 355.88,321.56 L356.12,321.56 356.41,321.16 356.94,320.76 357.44,320.36 357.92,319.96 358.37,319.56 358.80,319.16 359.20,318.76 359.57,318.36 359.90,317.96 360.20,317.56 360.45,317.16 360.66,316.76 360.79,316.36 360.71,315.96 360.50,315.56 360.20,315.16 359.84,314.76 359.44,314.36 358.99,313.96 358.49,313.56 357.96,313.16 357.39,312.76 356.79,312.36 356.16,311.96 356.12,311.56 356.12,307.56 356.49,307.16 357.39,306.76 358.29,306.36 359.19,305.96 360.09,305.56 360.98,305.16 361.88,304.76 362.78,304.36 363.68,303.96 364.58,303.56 365.47,303.16 366.37,302.76 367.00,302.36 366.93,301.96 366.76,301.56 366.46,301.16 366.04,300.76 365.47,300.36 364.77,299.96 363.91,299.56 362.90,299.16 361.74,298.76 360.41,298.36 358.92,297.96 357.26,297.56 356.12,297.16 356.12,293.96 356.32,293.56 357.23,293.16 358.11,292.76 358.98,292.36 359.83,291.96 360.66,291.56 361.46,291.16 362.24,290.76 362.99,290.36 363.70,289.96 364.38,289.56 365.01,289.16 365.59,288.76 366.08,288.36 366.20,287.96 365.75,287.56 365.19,287.16 364.58,286.76 363.91,286.36 363.21,285.96 362.47,285.56 361.70,285.16 360.90,284.76 360.08,284.36 359.24,283.96 358.38,283.56 357.49,283.16 356.59,282.76 356.12,282.36 356.12,279.56 356.66,279.16 357.22,278.76 357.77,278.36 358.31,277.96 358.84,277.56 359.35,277.16 359.84,276.76 360.32,276.36 360.77,275.96 361.21,275.56 361.61,275.16 361.98,274.76 362.30,274.36 362.48,273.96 362.21,273.56 361.88,273.16 361.49,272.76 361.08,272.36 360.64,271.96 360.18,271.56 359.69,271.16 359.19,270.76 358.68,270.36 358.15,269.96 357.61,269.56 357.06,269.16 356.49,268.76 356.12,268.36 356.12,250.36 356.44,249.96 356.77,249.56 357.08,249.16 357.36,248.76 357.61,248.36 357.84,247.96 358.03,247.56 358.20,247.16 358.34,246.76 358.44,246.36 358.49,245.96 358.42,245.56 358.28,245.16 358.12,244.76 357.94,244.36 357.75,243.96 357.55,243.56 357.34,243.16 357.12,242.76 356.90,242.36 356.67,241.96 356.43,241.56 356.19,241.16 356.12,240.76 Z" fill="rgba(12,140,69,0.27)" stroke="#0c8c45" stroke-width="0.95" stroke-linejoin="round"/>
<path d="M356.00,268.36 355.70,268.76 355.35,269.16 355.00,269.56 354.67,269.96 354.34,270.36 354.02,270.76 353.71,271.16 353.41,271.56 353.12,271.96 352.85,272.36 352.59,272.76 352.36,273.16 352.15,273.56 351.98,273.96 352.09,274.36 352.29,274.76 352.52,275.16 352.77,275.56 353.04,275.96 353.32,276.36 353.62,276.76 353.93,277.16 354.24,277.56 354.57,277.96 354.90,278.36 355.24,278.76 355.59,279.16 355.95,279.56 356.00,279.96 356.00,282.36 355.63,282.76 355.07,283.16 354.53,283.56 353.99,283.96 353.47,284.36 352.96,284.76 352.47,285.16 351.99,285.56 351.53,285.96 351.10,286.36 350.68,286.76 350.30,287.16 349.96,287.56 349.68,287.96 349.75,288.36 350.05,288.76 350.41,289.16 350.80,289.56 351.22,289.96 351.67,290.36 352.13,290.76 352.61,291.16 353.11,291.56 353.62,291.96 354.15,292.36 354.69,292.76 355.24,293.16 355.80,293.56 356.00,293.96 356.00,297.16 355.22,297.56 354.19,297.96 353.27,298.36 352.44,298.76 351.72,299.16 351.10,299.56 350.57,299.96 350.13,300.36 349.78,300.76 349.51,301.16 349.33,301.56 349.22,301.96 349.18,302.36 349.57,302.76 350.13,303.16 350.68,303.56 351.24,303.96 351.80,304.36 352.35,304.76 352.91,305.16 353.47,305.56 354.02,305.96 354.58,306.36 355.14,306.76 355.69,307.16 356.00,307.56 356.00,311.56 355.90,311.96 355.51,312.36 355.14,312.76 354.78,313.16 354.45,313.56 354.15,313.96 353.87,314.36 353.62,314.76 353.40,315.16 353.21,315.56 353.08,315.96 353.03,316.36 353.11,316.76 353.24,317.16 353.40,317.56 353.58,317.96 353.79,318.36 354.02,318.76 354.26,319.16 354.53,319.56 354.81,319.96 355.11,320.36 355.42,320.76 355.75,321.16 356.00,321.56 L356.00,321.56 356.25,321.16 356.58,320.76 356.89,320.36 357.19,319.96 357.47,319.56 357.74,319.16 357.98,318.76 358.21,318.36 358.42,317.96 358.60,317.56 358.76,317.16 358.89,316.76 358.97,316.36 358.92,315.96 358.79,315.56 358.60,315.16 358.38,314.76 358.13,314.36 357.85,313.96 357.55,313.56 357.22,313.16 356.86,312.76 356.49,312.36 356.10,311.96 356.00,311.56 356.00,307.56 356.31,307.16 356.86,306.76 357.42,306.36 357.98,305.96 358.53,305.56 359.09,305.16 359.65,304.76 360.20,304.36 360.76,303.96 361.32,303.56 361.87,303.16 362.43,302.76 362.82,302.36 362.78,301.96 362.67,301.56 362.49,301.16 362.22,300.76 361.87,300.36 361.43,299.96 360.90,299.56 360.28,299.16 359.56,298.76 358.73,298.36 357.81,297.96 356.78,297.56 356.00,297.16 356.00,293.96 356.20,293.56 356.76,293.16 357.31,292.76 357.85,292.36 358.38,291.96 358.89,291.56 359.39,291.16 359.87,290.76 360.33,290.36 360.78,289.96 361.20,289.56 361.59,289.16 361.95,288.76 362.25,288.36 362.32,287.96 362.04,287.56 361.70,287.16 361.32,286.76 360.90,286.36 360.47,285.96 360.01,285.56 359.53,285.16 359.04,284.76 358.53,284.36 358.01,283.96 357.47,283.56 356.93,283.16 356.37,282.76 356.00,282.36 356.00,279.96 356.05,279.56 356.41,279.16 356.76,278.76 357.10,278.36 357.43,277.96 357.76,277.56 358.07,277.16 358.38,276.76 358.68,276.36 358.96,275.96 359.23,275.56 359.48,275.16 359.71,274.76 359.91,274.36 360.02,273.96 359.85,273.56 359.64,273.16 359.41,272.76 359.15,272.36 358.88,271.96 358.59,271.56 358.29,271.16 357.98,270.76 357.66,270.36 357.33,269.96 357.00,269.56 356.65,269.16 356.30,268.76 356.00,268.36 Z" fill="none" stroke="rgba(12,140,69,0.28)" stroke-width="0.6" stroke-linejoin="round"/>
<line x1="356.0" y1="245.86" x2="356.0" y2="316.26" stroke="#0c8c45" stroke-width="1.1"/>
<line x1="356.0" y1="245.86" x2="356.0" y2="274.02" stroke="#1a9350" stroke-width="1.5"/>
<rect x="352.40" y="281.06" width="7.2" height="21.12" fill="#088c44"/>
<circle cx="356.0" cy="288.10" r="2.65" fill="#fff"/>
<path d="M401.98,99.96 401.91,100.36 401.66,100.76 401.41,101.16 401.17,101.56 400.94,101.96 400.71,102.36 400.50,102.76 400.29,103.16 400.09,103.56 399.91,103.96 399.74,104.36 399.60,104.76 399.52,105.16 399.58,105.56 399.68,105.96 399.82,106.36 400.00,106.76 400.20,107.16 400.44,107.56 400.70,107.96 400.99,108.36 401.30,108.76 401.64,109.16 401.98,109.56 401.98,156.36 401.97,156.76 401.68,157.16 401.40,157.56 401.13,157.96 400.88,158.36 400.64,158.76 400.42,159.16 400.22,159.56 400.03,159.96 399.87,160.36 399.73,160.76 399.63,161.16 399.63,161.56 399.72,161.96 399.86,162.36 400.02,162.76 400.20,163.16 400.40,163.56 400.62,163.96 400.86,164.36 401.11,164.76 401.37,165.16 401.65,165.56 401.94,165.96 401.98,166.36 401.98,169.96 401.52,170.36 401.06,170.76 400.61,171.16 400.17,171.56 399.75,171.96 399.33,172.36 398.93,172.76 398.54,173.16 398.17,173.56 397.82,173.96 397.49,174.36 397.19,174.76 396.94,175.16 396.83,175.56 397.06,175.96 397.34,176.36 397.65,176.76 397.99,177.16 398.36,177.56 398.73,177.96 399.13,178.36 399.54,178.76 399.96,179.16 400.39,179.56 400.83,179.96 401.29,180.36 401.75,180.76 401.98,181.16 401.98,198.36 401.57,198.76 400.95,199.16 400.32,199.56 399.70,199.96 399.08,200.36 398.45,200.76 397.83,201.16 397.21,201.56 396.59,201.96 395.96,202.36 395.34,202.76 394.72,203.16 394.09,203.56 394.53,203.96 395.15,204.36 395.78,204.76 396.40,205.16 397.02,205.56 397.65,205.96 398.27,206.36 398.89,206.76 399.51,207.16 400.14,207.56 400.76,207.96 401.38,208.36 401.98,208.76 401.98,226.36 401.82,226.76 401.19,227.16 400.55,227.56 399.92,227.96 399.29,228.36 398.66,228.76 398.03,229.16 397.40,229.56 396.77,229.96 396.14,230.36 395.51,230.76 394.88,231.16 394.25,231.56 394.18,231.96 394.81,232.36 395.45,232.76 396.08,233.16 396.71,233.56 397.34,233.96 397.97,234.36 398.60,234.76 399.23,235.16 399.86,235.56 400.49,235.96 401.12,236.36 401.75,236.76 401.98,237.16 401.98,239.96 401.86,240.36 400.90,240.76 399.96,241.16 399.03,241.56 398.13,241.96 397.26,242.36 396.40,242.76 395.58,243.16 394.78,243.56 394.02,243.96 393.30,244.36 392.63,244.76 392.01,245.16 391.48,245.56 391.27,245.96 391.73,246.36 392.31,246.76 392.96,247.16 393.66,247.56 394.40,247.96 395.18,248.36 395.99,248.76 396.83,249.16 397.69,249.56 398.58,249.96 399.49,250.36 400.42,250.76 401.38,251.16 401.98,251.56 401.98,256.76 401.34,257.16 400.10,257.56 399.05,257.96 398.20,258.36 397.54,258.76 397.07,259.16 396.79,259.56 396.72,259.96 397.02,260.36 397.32,260.76 397.62,261.16 397.92,261.56 398.22,261.96 398.52,262.36 398.82,262.76 399.12,263.16 399.42,263.56 399.72,263.96 400.02,264.36 400.32,264.76 400.62,265.16 400.92,265.56 401.22,265.96 401.52,266.36 401.82,266.76 401.98,267.16 401.98,269.96 401.51,270.36 399.96,270.76 398.60,271.16 397.43,271.56 396.46,271.96 395.67,272.36 395.07,272.76 394.66,273.16 394.44,273.56 394.42,273.96 394.55,274.36 394.74,274.76 394.99,275.16 395.29,275.56 395.63,275.96 396.00,276.36 396.41,276.76 396.85,277.16 397.31,277.56 397.81,277.96 398.34,278.36 398.89,278.76 399.46,279.16 400.06,279.56 400.68,279.96 401.33,280.36 401.98,280.76 401.98,281.16 L402.22,281.16 402.22,280.76 402.87,280.36 403.52,279.96 404.14,279.56 404.74,279.16 405.31,278.76 405.86,278.36 406.39,277.96 406.89,277.56 407.35,277.16 407.79,276.76 408.20,276.36 408.57,275.96 408.91,275.56 409.21,275.16 409.46,274.76 409.65,274.36 409.78,273.96 409.76,273.56 409.54,273.16 409.13,272.76 408.53,272.36 407.74,271.96 406.77,271.56 405.60,271.16 404.24,270.76 402.69,270.36 402.22,269.96 402.22,267.16 402.38,266.76 402.69,266.36 402.99,265.96 403.28,265.56 403.58,265.16 403.88,264.76 404.19,264.36 404.49,263.96 404.78,263.56 405.08,263.16 405.38,262.76 405.69,262.36 405.99,261.96 406.28,261.56 406.58,261.16 406.88,260.76 407.19,260.36 407.49,259.96 407.41,259.56 407.13,259.16 406.66,258.76 406.00,258.36 405.15,257.96 404.10,257.56 402.86,257.16 402.22,256.76 402.22,251.56 402.82,251.16 403.78,250.76 404.71,250.36 405.62,249.96 406.51,249.56 407.37,249.16 408.21,248.76 409.02,248.36 409.80,247.96 410.54,247.56 411.24,247.16 411.89,246.76 412.47,246.36 412.93,245.96 412.72,245.56 412.19,245.16 411.57,244.76 410.90,244.36 410.18,243.96 409.42,243.56 408.62,243.16 407.80,242.76 406.94,242.36 406.07,241.96 405.17,241.56 404.24,241.16 403.30,240.76 402.34,240.36 402.22,239.96 402.22,237.16 402.45,236.76 403.08,236.36 403.71,235.96 404.34,235.56 404.97,235.16 405.60,234.76 406.23,234.36 406.86,233.96 407.49,233.56 408.12,233.16 408.75,232.76 409.39,232.36 410.02,231.96 409.95,231.56 409.32,231.16 408.69,230.76 408.06,230.36 407.43,229.96 406.80,229.56 406.17,229.16 405.54,228.76 404.91,228.36 404.28,227.96 403.65,227.56 403.01,227.16 402.38,226.76 402.22,226.36 402.22,208.76 402.82,208.36 403.44,207.96 404.06,207.56 404.69,207.16 405.31,206.76 405.93,206.36 406.55,205.96 407.18,205.56 407.80,205.16 408.42,204.76 409.05,204.36 409.67,203.96 410.11,203.56 409.48,203.16 408.86,202.76 408.24,202.36 407.61,201.96 406.99,201.56 406.37,201.16 405.75,200.76 405.12,200.36 404.50,199.96 403.88,199.56 403.25,199.16 402.63,198.76 402.22,198.36 402.22,181.16 402.45,180.76 402.91,180.36 403.37,179.96 403.81,179.56 404.24,179.16 404.66,178.76 405.07,178.36 405.47,177.96 405.84,177.56 406.21,177.16 406.55,176.76 406.86,176.36 407.14,175.96 407.37,175.56 407.26,175.16 407.01,174.76 406.71,174.36 406.38,173.96 406.03,173.56 405.66,173.16 405.27,172.76 404.87,172.36 404.45,171.96 404.03,171.56 403.59,171.16 403.14,170.76 402.68,170.36 402.22,169.96 402.22,166.36 402.26,165.96 402.55,165.56 402.83,165.16 403.09,164.76 403.34,164.36 403.58,163.96 403.80,163.56 404.00,163.16 404.18,162.76 404.34,162.36 404.48,161.96 404.57,161.56 404.57,161.16 404.47,160.76 404.33,160.36 404.17,159.96 403.98,159.56 403.78,159.16 403.56,158.76 403.32,158.36 403.07,157.96 402.80,157.56 402.52,157.16 402.23,156.76 402.22,156.36 402.22,109.56 402.56,109.16 402.90,108.76 403.21,108.36 403.50,107.96 403.76,107.56 404.00,107.16 404.20,106.76 404.38,106.36 404.52,105.96 404.62,105.56 404.68,105.16 404.60,104.76 404.46,104.36 404.29,103.96 404.11,103.56 403.91,103.16 403.70,102.76 403.49,102.36 403.26,101.96 403.03,101.56 402.79,101.16 402.54,100.76 402.29,100.36 402.22,99.96 Z" fill="rgba(67,82,161,0.27)" stroke="#4352a1" stroke-width="0.95" stroke-linejoin="round"/>
<path d="M402.10,169.56 402.03,169.96 401.74,170.36 401.45,170.76 401.18,171.16 400.90,171.56 400.64,171.96 400.38,172.36 400.13,172.76 399.89,173.16 399.66,173.56 399.45,173.96 399.24,174.36 399.06,174.76 398.90,175.16 398.84,175.56 398.97,175.96 399.15,176.36 399.34,176.76 399.55,177.16 399.78,177.56 400.01,177.96 400.26,178.36 400.51,178.76 400.77,179.16 401.04,179.56 401.31,179.96 401.59,180.36 401.88,180.76 402.10,181.16 402.10,198.36 401.77,198.76 401.39,199.16 401.00,199.56 400.61,199.96 400.23,200.36 399.84,200.76 399.45,201.16 399.07,201.56 398.68,201.96 398.29,202.36 397.91,202.76 397.52,203.16 397.14,203.56 397.41,203.96 397.79,204.36 398.18,204.76 398.57,205.16 398.95,205.56 399.34,205.96 399.72,206.36 400.11,206.76 400.50,207.16 400.88,207.56 401.27,207.96 401.66,208.36 402.04,208.76 402.10,209.16 402.10,226.36 401.92,226.76 401.53,227.16 401.14,227.56 400.75,227.96 400.36,228.36 399.97,228.76 399.58,229.16 399.19,229.56 398.80,229.96 398.40,230.36 398.01,230.76 397.62,231.16 397.23,231.56 397.19,231.96 397.58,232.36 397.97,232.76 398.37,233.16 398.76,233.56 399.15,233.96 399.54,234.36 399.93,234.76 400.32,235.16 400.71,235.56 401.10,235.96 401.49,236.36 401.88,236.76 402.10,237.16 402.10,239.96 401.95,240.36 401.35,240.76 400.77,241.16 400.20,241.56 399.64,241.96 399.10,242.36 398.57,242.76 398.06,243.16 397.56,243.56 397.09,243.96 396.64,244.36 396.23,244.76 395.84,245.16 395.52,245.56 395.39,245.96 395.67,246.36 396.03,246.76 396.43,247.16 396.86,247.56 397.33,247.96 397.81,248.36 398.31,248.76 398.83,249.16 399.37,249.56 399.92,249.96 400.48,250.36 401.06,250.76 401.65,251.16 402.10,251.56 402.10,256.76 401.63,257.16 400.86,257.56 400.21,257.96 399.68,258.36 399.27,258.76 398.98,259.16 398.81,259.56 398.76,259.96 398.95,260.36 399.13,260.76 399.32,261.16 399.51,261.56 399.69,261.96 399.88,262.36 400.06,262.76 400.25,263.16 400.44,263.56 400.62,263.96 400.81,264.36 400.99,264.76 401.18,265.16 401.37,265.56 401.55,265.96 401.74,266.36 401.92,266.76 402.10,267.16 402.10,269.96 401.74,270.36 400.78,270.76 399.93,271.16 399.21,271.56 398.60,271.96 398.11,272.36 397.74,272.76 397.49,273.16 397.35,273.56 397.34,273.96 397.42,274.36 397.54,274.76 397.69,275.16 397.88,275.56 398.09,275.96 398.32,276.36 398.57,276.76 398.84,277.16 399.13,277.56 399.44,277.96 399.77,278.36 400.11,278.76 400.46,279.16 400.84,279.56 401.22,279.96 401.62,280.36 402.04,280.76 402.10,281.16 L402.10,281.16 402.16,280.76 402.58,280.36 402.98,279.96 403.36,279.56 403.74,279.16 404.09,278.76 404.43,278.36 404.76,277.96 405.07,277.56 405.36,277.16 405.63,276.76 405.88,276.36 406.11,275.96 406.32,275.56 406.51,275.16 406.66,274.76 406.78,274.36 406.86,273.96 406.85,273.56 406.71,273.16 406.46,272.76 406.09,272.36 405.60,271.96 404.99,271.56 404.27,271.16 403.42,270.76 402.46,270.36 402.10,269.96 402.10,267.16 402.28,266.76 402.46,266.36 402.65,265.96 402.83,265.56 403.02,265.16 403.21,264.76 403.39,264.36 403.58,263.96 403.76,263.56 403.95,263.16 404.14,262.76 404.32,262.36 404.51,261.96 404.69,261.56 404.88,261.16 405.07,260.76 405.25,260.36 405.44,259.96 405.39,259.56 405.22,259.16 404.93,258.76 404.52,258.36 403.99,257.96 403.34,257.56 402.57,257.16 402.10,256.76 402.10,251.56 402.55,251.16 403.14,250.76 403.72,250.36 404.28,249.96 404.83,249.56 405.37,249.16 405.89,248.76 406.39,248.36 406.87,247.96 407.34,247.56 407.77,247.16 408.17,246.76 408.53,246.36 408.81,245.96 408.68,245.56 408.36,245.16 407.97,244.76 407.56,244.36 407.11,243.96 406.64,243.56 406.14,243.16 405.63,242.76 405.10,242.36 404.56,241.96 404.00,241.56 403.43,241.16 402.85,240.76 402.25,240.36 402.10,239.96 402.10,237.16 402.32,236.76 402.71,236.36 403.10,235.96 403.49,235.56 403.88,235.16 404.27,234.76 404.66,234.36 405.05,233.96 405.44,233.56 405.83,233.16 406.23,232.76 406.62,232.36 407.01,231.96 406.97,231.56 406.58,231.16 406.19,230.76 405.80,230.36 405.40,229.96 405.01,229.56 404.62,229.16 404.23,228.76 403.84,228.36 403.45,227.96 403.06,227.56 402.67,227.16 402.28,226.76 402.10,226.36 402.10,209.16 402.16,208.76 402.54,208.36 402.93,207.96 403.32,207.56 403.70,207.16 404.09,206.76 404.48,206.36 404.86,205.96 405.25,205.56 405.63,205.16 406.02,204.76 406.41,204.36 406.79,203.96 407.06,203.56 406.68,203.16 406.29,202.76 405.91,202.36 405.52,201.96 405.13,201.56 404.75,201.16 404.36,200.76 403.97,200.36 403.59,199.96 403.20,199.56 402.81,199.16 402.43,198.76 402.10,198.36 402.10,181.16 402.32,180.76 402.61,180.36 402.89,179.96 403.16,179.56 403.43,179.16 403.69,178.76 403.94,178.36 404.19,177.96 404.42,177.56 404.65,177.16 404.86,176.76 405.05,176.36 405.23,175.96 405.36,175.56 405.30,175.16 405.14,174.76 404.96,174.36 404.75,173.96 404.54,173.56 404.31,173.16 404.07,172.76 403.82,172.36 403.56,171.96 403.30,171.56 403.02,171.16 402.75,170.76 402.46,170.36 402.17,169.96 402.10,169.56 Z" fill="none" stroke="rgba(67,82,161,0.28)" stroke-width="0.6" stroke-linejoin="round"/>
<line x1="402.1" y1="105.06" x2="402.1" y2="274.02" stroke="#4352a1" stroke-width="1.1"/>
<line x1="402.1" y1="105.06" x2="402.1" y2="175.46" stroke="#5261ac" stroke-width="1.9"/>
<path d="M400.10,178.96 L401.60,199.12 L402.60,199.12 L404.10,178.96 Z" fill="rgba(67,82,161,0.35)" stroke="#4352a1" stroke-width="0.8"/>
<rect x="398.50" y="203.62" width="7.2" height="56.32" fill="#3a4896"/>
<circle cx="402.1" cy="231.78" r="2.65" fill="#fff"/>
<path d="M423.48,185.24 422.91,185.64 422.65,186.04 422.47,186.44 422.33,186.84 422.22,187.24 422.13,187.64 422.07,188.04 422.02,188.44 421.99,188.84 421.97,189.24 421.97,189.64 422.00,190.04 422.07,190.44 422.16,190.84 422.27,191.24 422.40,191.64 422.55,192.04 422.71,192.44 422.90,192.84 423.09,193.24 423.31,193.64 423.48,194.04 423.48,198.84 423.36,199.24 423.15,199.64 422.94,200.04 422.75,200.44 422.57,200.84 422.39,201.24 422.23,201.64 422.09,202.04 421.96,202.44 421.84,202.84 421.76,203.24 421.71,203.64 421.76,204.04 421.85,204.44 421.97,204.84 422.10,205.24 422.25,205.64 422.41,206.04 422.58,206.44 422.77,206.84 422.96,207.24 423.17,207.64 423.39,208.04 423.48,208.44 423.48,212.84 423.41,213.24 423.19,213.64 422.98,214.04 422.79,214.44 422.60,214.84 422.43,215.24 422.26,215.64 422.11,216.04 421.98,216.44 421.86,216.84 421.77,217.24 421.71,217.64 421.75,218.04 421.83,218.44 421.94,218.84 422.07,219.24 422.22,219.64 422.38,220.04 422.55,220.44 422.73,220.84 422.92,221.24 423.13,221.64 423.34,222.04 423.48,222.44 423.48,226.44 423.41,226.84 423.11,227.24 422.81,227.64 422.51,228.04 422.21,228.44 421.91,228.84 421.61,229.24 421.31,229.64 421.01,230.04 420.71,230.44 420.41,230.84 420.11,231.24 419.81,231.64 419.90,232.04 420.19,232.44 420.50,232.84 420.80,233.24 421.10,233.64 421.40,234.04 421.69,234.44 422.00,234.84 422.30,235.24 422.60,235.64 422.90,236.04 423.19,236.44 423.48,236.84 423.48,240.04 423.40,240.44 422.95,240.84 422.51,241.24 422.08,241.64 421.66,242.04 421.25,242.44 420.86,242.84 420.47,243.24 420.10,243.64 419.75,244.04 419.42,244.44 419.11,244.84 418.83,245.24 418.59,245.64 418.57,246.04 418.80,246.44 419.08,246.84 419.39,247.24 419.72,247.64 420.07,248.04 420.44,248.44 420.82,248.84 421.21,249.24 421.62,249.64 422.04,250.04 422.47,250.44 422.90,250.84 423.35,251.24 423.48,251.64 423.48,268.84 423.07,269.24 421.41,269.64 419.91,270.04 418.57,270.44 417.38,270.84 416.35,271.24 415.47,271.64 414.73,272.04 414.13,272.44 413.67,272.84 413.33,273.24 413.12,273.64 413.02,274.04 413.26,274.44 414.12,274.84 414.99,275.24 415.86,275.64 416.72,276.04 417.59,276.44 418.45,276.84 419.32,277.24 420.18,277.64 421.05,278.04 421.91,278.44 422.78,278.84 423.48,279.24 423.48,283.64 423.21,284.04 422.94,284.44 422.69,284.84 422.46,285.24 422.25,285.64 422.06,286.04 421.90,286.44 421.76,286.84 421.66,287.24 421.58,287.64 421.54,288.04 421.54,288.44 421.56,288.84 421.60,289.24 421.66,289.64 421.74,290.04 421.84,290.44 421.96,290.84 422.12,291.24 422.33,291.64 422.60,292.04 423.05,292.44 423.48,292.84 L423.72,292.84 424.15,292.44 424.60,292.04 424.87,291.64 425.08,291.24 425.24,290.84 425.36,290.44 425.46,290.04 425.54,289.64 425.60,289.24 425.64,288.84 425.66,288.44 425.66,288.04 425.62,287.64 425.54,287.24 425.44,286.84 425.30,286.44 425.14,286.04 424.95,285.64 424.74,285.24 424.51,284.84 424.26,284.44 423.99,284.04 423.72,283.64 423.72,279.24 424.42,278.84 425.29,278.44 426.15,278.04 427.02,277.64 427.88,277.24 428.75,276.84 429.61,276.44 430.48,276.04 431.34,275.64 432.21,275.24 433.08,274.84 433.94,274.44 434.18,274.04 434.08,273.64 433.87,273.24 433.53,272.84 433.07,272.44 432.47,272.04 431.73,271.64 430.85,271.24 429.82,270.84 428.63,270.44 427.29,270.04 425.79,269.64 424.13,269.24 423.72,268.84 423.72,251.64 423.85,251.24 424.30,250.84 424.73,250.44 425.16,250.04 425.58,249.64 425.99,249.24 426.38,248.84 426.76,248.44 427.13,248.04 427.48,247.64 427.81,247.24 428.12,246.84 428.40,246.44 428.63,246.04 428.61,245.64 428.37,245.24 428.09,244.84 427.78,244.44 427.45,244.04 427.10,243.64 426.73,243.24 426.34,242.84 425.95,242.44 425.54,242.04 425.12,241.64 424.69,241.24 424.25,240.84 423.80,240.44 423.72,240.04 423.72,236.84 424.01,236.44 424.31,236.04 424.61,235.64 424.91,235.24 425.21,234.84 425.51,234.44 425.81,234.04 426.11,233.64 426.41,233.24 426.71,232.84 427.01,232.44 427.31,232.04 427.40,231.64 427.10,231.24 426.80,230.84 426.50,230.44 426.19,230.04 425.90,229.64 425.60,229.24 425.30,228.84 425.00,228.44 424.69,228.04 424.40,227.64 424.10,227.24 423.80,226.84 423.72,226.44 423.72,222.44 423.86,222.04 424.07,221.64 424.28,221.24 424.47,220.84 424.65,220.44 424.82,220.04 424.98,219.64 425.13,219.24 425.26,218.84 425.37,218.44 425.45,218.04 425.49,217.64 425.43,217.24 425.34,216.84 425.22,216.44 425.09,216.04 424.94,215.64 424.77,215.24 424.60,214.84 424.41,214.44 424.22,214.04 424.01,213.64 423.79,213.24 423.72,212.84 423.72,208.44 423.81,208.04 424.03,207.64 424.24,207.24 424.43,206.84 424.62,206.44 424.79,206.04 424.95,205.64 425.10,205.24 425.23,204.84 425.35,204.44 425.44,204.04 425.49,203.64 425.44,203.24 425.36,202.84 425.24,202.44 425.11,202.04 424.97,201.64 424.81,201.24 424.63,200.84 424.45,200.44 424.26,200.04 424.05,199.64 423.84,199.24 423.72,198.84 423.72,194.04 423.89,193.64 424.11,193.24 424.30,192.84 424.49,192.44 424.65,192.04 424.80,191.64 424.93,191.24 425.04,190.84 425.13,190.44 425.20,190.04 425.23,189.64 425.23,189.24 425.21,188.84 425.18,188.44 425.13,188.04 425.07,187.64 424.98,187.24 424.87,186.84 424.73,186.44 424.55,186.04 424.29,185.64 423.72,185.24 Z" fill="rgba(236,0,0,0.27)" stroke="#ec0000" stroke-width="0.95" stroke-linejoin="round"/>
<path d="M423.60,226.44 423.48,226.84 423.29,227.24 423.11,227.64 422.92,228.04 422.74,228.44 422.55,228.84 422.36,229.24 422.18,229.64 421.99,230.04 421.81,230.44 421.62,230.84 421.43,231.24 421.25,231.64 421.30,232.04 421.49,232.44 421.67,232.84 421.86,233.24 422.05,233.64 422.23,234.04 422.42,234.44 422.60,234.84 422.79,235.24 422.98,235.64 423.16,236.04 423.35,236.44 423.53,236.84 423.60,237.24 423.60,240.04 423.47,240.44 423.20,240.84 422.92,241.24 422.66,241.64 422.40,242.04 422.15,242.44 421.90,242.84 421.66,243.24 421.43,243.64 421.21,244.04 421.01,244.44 420.81,244.84 420.64,245.24 420.49,245.64 420.48,246.04 420.62,246.44 420.80,246.84 420.99,247.24 421.19,247.64 421.41,248.04 421.64,248.44 421.88,248.84 422.12,249.24 422.37,249.64 422.63,250.04 422.90,250.44 423.17,250.84 423.45,251.24 423.60,251.64 423.60,268.84 423.27,269.24 422.24,269.64 421.31,270.04 420.48,270.44 419.74,270.84 419.10,271.24 418.56,271.64 418.10,272.04 417.73,272.44 417.44,272.84 417.24,273.24 417.10,273.64 417.04,274.04 417.19,274.44 417.73,274.84 418.26,275.24 418.80,275.64 419.33,276.04 419.87,276.44 420.41,276.84 420.94,277.24 421.48,277.64 422.02,278.04 422.55,278.44 423.09,278.84 423.60,279.24 L423.60,279.24 424.11,278.84 424.65,278.44 425.18,278.04 425.72,277.64 426.26,277.24 426.79,276.84 427.33,276.44 427.87,276.04 428.40,275.64 428.94,275.24 429.47,274.84 430.01,274.44 430.16,274.04 430.10,273.64 429.96,273.24 429.76,272.84 429.47,272.44 429.10,272.04 428.64,271.64 428.10,271.24 427.46,270.84 426.72,270.44 425.89,270.04 424.96,269.64 423.93,269.24 423.60,268.84 423.60,251.64 423.75,251.24 424.03,250.84 424.30,250.44 424.57,250.04 424.83,249.64 425.08,249.24 425.32,248.84 425.56,248.44 425.79,248.04 426.01,247.64 426.21,247.24 426.40,246.84 426.58,246.44 426.72,246.04 426.71,245.64 426.56,245.24 426.39,244.84 426.19,244.44 425.99,244.04 425.77,243.64 425.54,243.24 425.30,242.84 425.05,242.44 424.80,242.04 424.54,241.64 424.28,241.24 424.00,240.84 423.73,240.44 423.60,240.04 423.60,237.24 423.67,236.84 423.85,236.44 424.04,236.04 424.22,235.64 424.41,235.24 424.60,234.84 424.78,234.44 424.97,234.04 425.15,233.64 425.34,233.24 425.53,232.84 425.71,232.44 425.90,232.04 425.95,231.64 425.77,231.24 425.58,230.84 425.39,230.44 425.21,230.04 425.02,229.64 424.84,229.24 424.65,228.84 424.46,228.44 424.28,228.04 424.09,227.64 423.91,227.24 423.72,226.84 423.60,226.44 Z" fill="none" stroke="rgba(236,0,0,0.28)" stroke-width="0.6" stroke-linejoin="round"/>
<line x1="423.6" y1="189.54" x2="423.6" y2="288.10" stroke="#ec0000" stroke-width="1.1"/>
<rect x="420.00" y="231.78" width="7.2" height="42.24" fill="#eb0000"/>
<circle cx="423.6" cy="259.94" r="2.65" fill="#fff"/>
<path d="M444.88,240.76 444.88,241.16 444.73,241.56 444.59,241.96 444.44,242.36 444.30,242.76 444.17,243.16 444.04,243.56 443.91,243.96 443.80,244.36 443.69,244.76 443.58,245.16 443.50,245.56 443.45,245.96 443.49,246.36 443.55,246.76 443.63,247.16 443.74,247.56 443.86,247.96 444.00,248.36 444.16,248.76 444.33,249.16 444.52,249.56 444.72,249.96 444.88,250.36 444.88,268.76 444.75,269.16 444.07,269.56 443.43,269.96 442.82,270.36 442.26,270.76 441.73,271.16 441.24,271.56 440.80,271.96 440.40,272.36 440.05,272.76 439.75,273.16 439.50,273.56 439.30,273.96 439.18,274.36 439.17,274.76 439.40,275.16 439.91,275.56 440.70,275.96 441.77,276.36 443.11,276.76 444.73,277.16 444.88,277.56 444.88,283.16 443.41,283.56 441.80,283.96 440.36,284.36 439.07,284.76 437.95,285.16 436.98,285.56 436.16,285.96 435.49,286.36 434.96,286.76 434.57,287.16 434.30,287.56 434.15,287.96 434.10,288.36 434.90,288.76 435.79,289.16 436.68,289.56 437.57,289.96 438.46,290.36 439.35,290.76 440.24,291.16 441.13,291.56 442.02,291.96 442.91,292.36 443.80,292.76 444.69,293.16 444.88,293.56 444.88,297.16 444.86,297.56 444.55,297.96 444.25,298.36 443.96,298.76 443.70,299.16 443.44,299.56 443.21,299.96 442.99,300.36 442.79,300.76 442.62,301.16 442.47,301.56 442.36,301.96 442.36,302.36 442.46,302.76 442.60,303.16 442.77,303.56 442.97,303.96 443.18,304.36 443.42,304.76 443.67,305.16 443.94,305.56 444.22,305.96 444.52,306.36 444.82,306.76 444.88,307.16 444.88,311.56 444.81,311.96 444.58,312.36 444.36,312.76 444.16,313.16 443.98,313.56 443.81,313.96 443.66,314.36 443.54,314.76 443.43,315.16 443.35,315.56 443.30,315.96 443.29,316.36 443.38,316.76 443.48,317.16 443.60,317.56 443.73,317.96 443.86,318.36 444.00,318.76 444.15,319.16 444.30,319.56 444.46,319.96 444.62,320.36 444.79,320.76 444.88,321.16 444.88,321.56 L445.12,321.56 445.12,321.16 445.21,320.76 445.38,320.36 445.54,319.96 445.70,319.56 445.85,319.16 446.00,318.76 446.14,318.36 446.27,317.96 446.40,317.56 446.52,317.16 446.62,316.76 446.71,316.36 446.70,315.96 446.65,315.56 446.57,315.16 446.46,314.76 446.34,314.36 446.19,313.96 446.02,313.56 445.84,313.16 445.64,312.76 445.42,312.36 445.19,311.96 445.12,311.56 445.12,307.16 445.18,306.76 445.48,306.36 445.78,305.96 446.06,305.56 446.33,305.16 446.58,304.76 446.82,304.36 447.03,303.96 447.23,303.56 447.40,303.16 447.54,302.76 447.64,302.36 447.64,301.96 447.53,301.56 447.38,301.16 447.21,300.76 447.01,300.36 446.79,299.96 446.56,299.56 446.30,299.16 446.04,298.76 445.75,298.36 445.45,297.96 445.14,297.56 445.12,297.16 445.12,293.56 445.31,293.16 446.20,292.76 447.09,292.36 447.98,291.96 448.87,291.56 449.76,291.16 450.65,290.76 451.54,290.36 452.43,289.96 453.32,289.56 454.21,289.16 455.10,288.76 455.90,288.36 455.85,287.96 455.70,287.56 455.43,287.16 455.04,286.76 454.51,286.36 453.84,285.96 453.02,285.56 452.05,285.16 450.93,284.76 449.64,284.36 448.20,283.96 446.59,283.56 445.12,283.16 445.12,277.56 445.27,277.16 446.89,276.76 448.23,276.36 449.30,275.96 450.09,275.56 450.60,275.16 450.83,274.76 450.82,274.36 450.70,273.96 450.50,273.56 450.25,273.16 449.95,272.76 449.60,272.36 449.20,271.96 448.76,271.56 448.27,271.16 447.74,270.76 447.18,270.36 446.57,269.96 445.93,269.56 445.25,269.16 445.12,268.76 445.12,250.36 445.28,249.96 445.48,249.56 445.67,249.16 445.84,248.76 446.00,248.36 446.14,247.96 446.26,247.56 446.37,247.16 446.45,246.76 446.51,246.36 446.55,245.96 446.50,245.56 446.42,245.16 446.31,244.76 446.20,244.36 446.09,243.96 445.96,243.56 445.83,243.16 445.70,242.76 445.56,242.36 445.41,241.96 445.27,241.56 445.12,241.16 445.12,240.76 Z" fill="rgba(12,140,69,0.27)" stroke="#0c8c45" stroke-width="0.95" stroke-linejoin="round"/>
<path d="M445.00,268.76 444.85,269.16 444.43,269.56 444.03,269.96 443.65,270.36 443.30,270.76 442.97,271.16 442.67,271.56 442.40,271.96 442.15,272.36 441.93,272.76 441.74,273.16 441.59,273.56 441.47,273.96 441.39,274.36 441.38,274.76 441.53,275.16 441.85,275.56 442.34,275.96 443.00,276.36 443.83,276.76 444.83,277.16 445.00,277.56 445.00,283.16 444.01,283.56 443.02,283.96 442.12,284.36 441.33,284.76 440.63,285.16 440.03,285.56 439.52,285.96 439.10,286.36 438.78,286.76 438.53,287.16 438.36,287.56 438.27,287.96 438.24,288.36 438.74,288.76 439.29,289.16 439.84,289.56 440.39,289.96 440.95,290.36 441.50,290.76 442.05,291.16 442.60,291.56 443.15,291.96 443.70,292.36 444.26,292.76 444.81,293.16 445.00,293.56 L445.00,293.56 445.19,293.16 445.74,292.76 446.30,292.36 446.85,291.96 447.40,291.56 447.95,291.16 448.50,290.76 449.05,290.36 449.61,289.96 450.16,289.56 450.71,289.16 451.26,288.76 451.76,288.36 451.73,287.96 451.64,287.56 451.47,287.16 451.22,286.76 450.90,286.36 450.48,285.96 449.97,285.56 449.37,285.16 448.67,284.76 447.88,284.36 446.98,283.96 445.99,283.56 445.00,283.16 445.00,277.56 445.17,277.16 446.17,276.76 447.00,276.36 447.66,275.96 448.15,275.56 448.47,275.16 448.62,274.76 448.61,274.36 448.53,273.96 448.41,273.56 448.26,273.16 448.07,272.76 447.85,272.36 447.60,271.96 447.33,271.56 447.03,271.16 446.70,270.76 446.35,270.36 445.97,269.96 445.57,269.56 445.15,269.16 445.00,268.76 Z" fill="none" stroke="rgba(12,140,69,0.28)" stroke-width="0.6" stroke-linejoin="round"/>
<line x1="445.0" y1="245.86" x2="445.0" y2="316.26" stroke="#0c8c45" stroke-width="1.1"/>
<line x1="445.0" y1="245.86" x2="445.0" y2="274.02" stroke="#1a9350" stroke-width="1.5"/>
<rect x="441.40" y="274.02" width="7.2" height="14.08" fill="#088c44"/>
<circle cx="445.0" cy="288.10" r="2.65" fill="#fff"/>
<text x="16.5" y="11.4" text-anchor="end" font-size="14.2" stroke="#000" stroke-width="0.4">20</text>
<text x="16.5" y="81.2" text-anchor="end" font-size="14.2" stroke="#000" stroke-width="0.4">15</text>
<text x="16.5" y="152.0" text-anchor="end" font-size="14.2" stroke="#000" stroke-width="0.4">10</text>
<text x="16.5" y="222.8" text-anchor="end" font-size="14.2" stroke="#000" stroke-width="0.4">5</text>
<text x="16.5" y="293.2" text-anchor="end" font-size="14.2" stroke="#000" stroke-width="0.4">0</text>
<text x="16.5" y="363.9" text-anchor="end" font-size="14.2" stroke="#000" stroke-width="0.4">-5</text>

<text transform="translate(66.3,376.3) rotate(9)" font-size="14.4" stroke="#000" stroke-width="0.35">Social Awareness</text>
<text transform="translate(155.3,376.3) rotate(9)" font-size="14.4" stroke="#000" stroke-width="0.35">Social Cognition</text>
<text transform="translate(244.3,376.3) rotate(9)" font-size="14.4" stroke="#000" stroke-width="0.35">Social Communication</text>
<text transform="translate(333.3,376.3) rotate(9)" font-size="14.4" stroke="#000" stroke-width="0.35">Social Motivation</text>
<text transform="translate(422.3,376.3) rotate(9)" font-size="14.4" stroke="#000" stroke-width="0.35">Autistic Mannerisms</text>

<circle cx="479" cy="15.3" r="6" fill="#4272a8"/><circle cx="479" cy="15.3" r="4.3" fill="#001a5e"/>
<text x="485" y="20.4" font-size="14.33" font-weight="bold">Typical Sensory Integration</text>
<circle cx="479" cy="41.0" r="5.9" fill="#ff0000"/>
<text x="485" y="45.5" font-size="14.33" font-weight="bold">Sensory Integration Dysfunction</text>
<circle cx="479" cy="64.8" r="5.9" fill="#0aaa4e"/>
<text x="485" y="69.8" font-size="14.33" font-weight="bold">Sham Stimulation Group</text>

</svg>
</body></html>
